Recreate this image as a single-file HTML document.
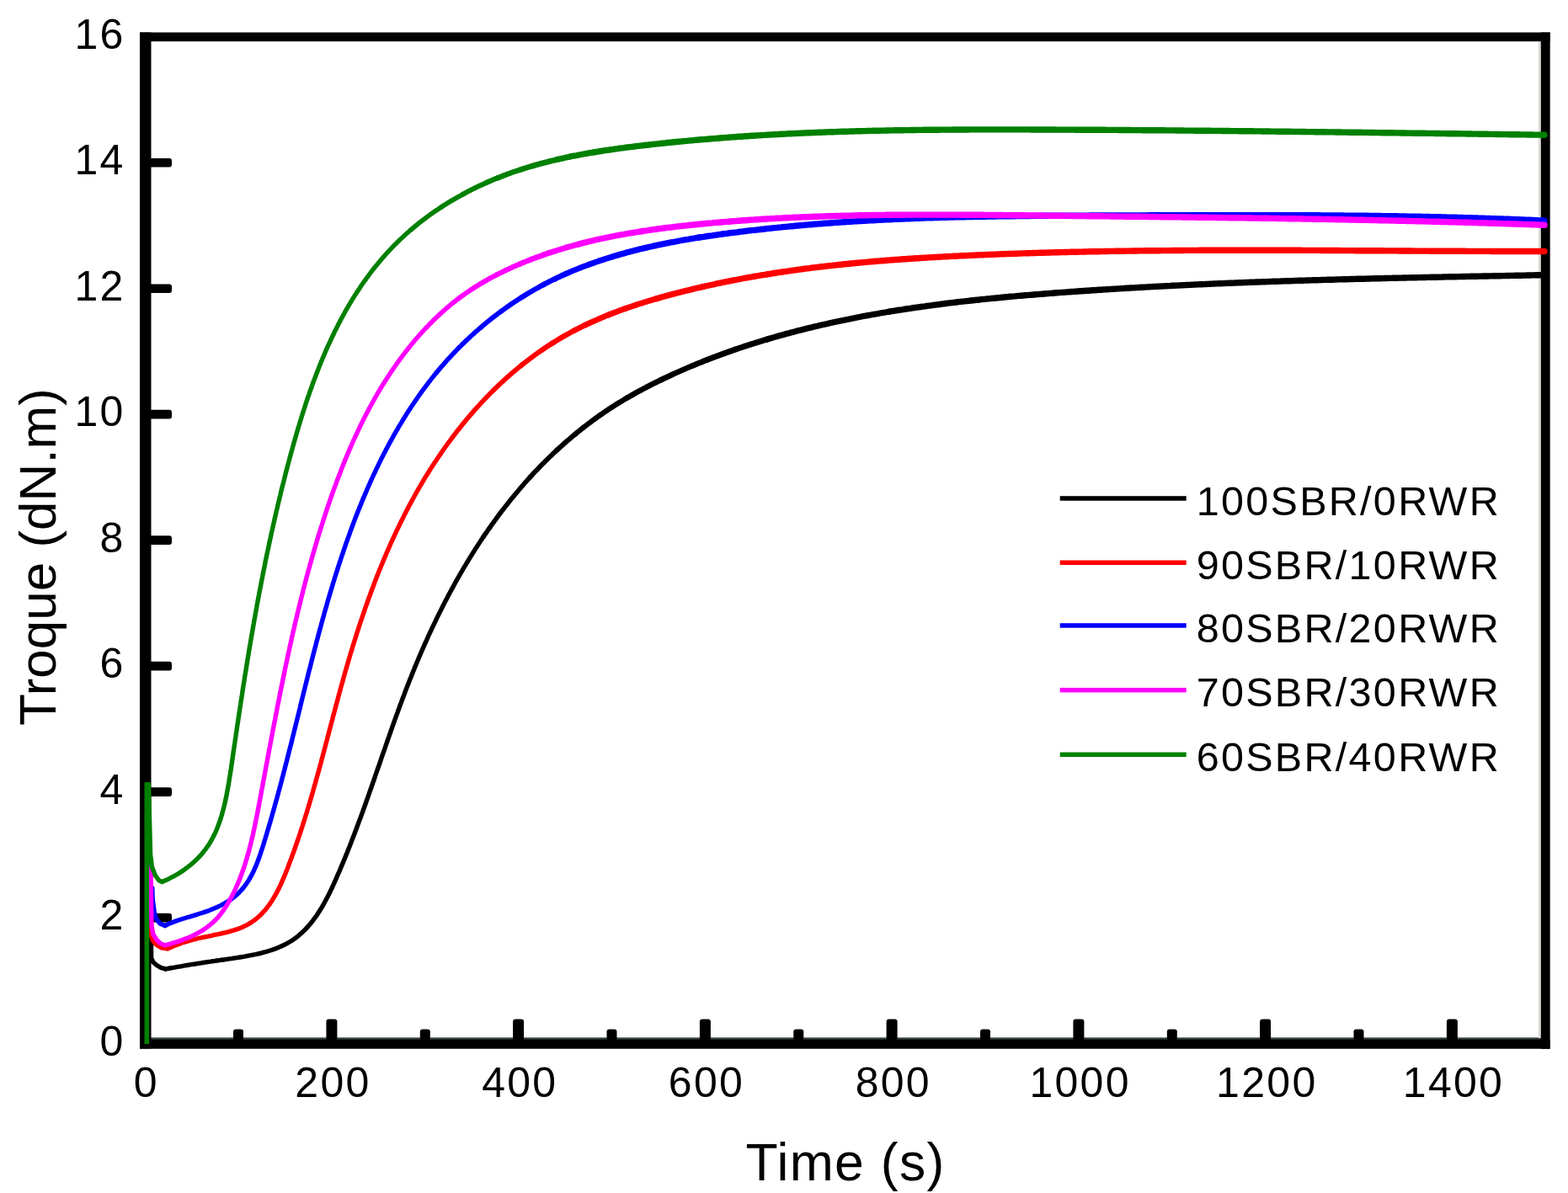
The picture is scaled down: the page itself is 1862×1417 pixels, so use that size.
<!DOCTYPE html>
<html><head><meta charset="utf-8"><title>Torque vs Time</title>
<style>html,body{margin:0;padding:0;background:#fff;overflow:hidden}svg{display:block}</style>
</head><body>
<svg width="1862" height="1417" viewBox="0 0 1862 1417"><rect x="0" y="0" width="1862" height="1417" fill="#ffffff"/><rect x="179" y="1232.3" width="1651" height="2.8" fill="#3a4242"/><rect x="1826.8" y="49" width="3" height="1184" fill="#dcdcd6"/><g fill="#000"><rect x="166.0" y="38.5" width="13.5" height="1207.0"/><rect x="166.0" y="38.5" width="1674.7" height="10.7"/><rect x="1829.8" y="38.5" width="10.9" height="1207.2"/><rect x="166.0" y="1234.6" width="1674.7" height="11.1"/><rect x="277.0" y="1222.5" width="12.0" height="13.5" rx="3"/><rect x="387.4" y="1210.5" width="13.0" height="25.5" rx="3"/><rect x="498.8" y="1222.5" width="12.0" height="13.5" rx="3"/><rect x="609.1" y="1210.5" width="13.0" height="25.5" rx="3"/><rect x="720.5" y="1222.5" width="12.0" height="13.5" rx="3"/><rect x="830.9" y="1210.5" width="13.0" height="25.5" rx="3"/><rect x="942.3" y="1222.5" width="12.0" height="13.5" rx="3"/><rect x="1052.6" y="1210.5" width="13.0" height="25.5" rx="3"/><rect x="1164.0" y="1222.5" width="12.0" height="13.5" rx="3"/><rect x="1274.4" y="1210.5" width="13.0" height="25.5" rx="3"/><rect x="1385.8" y="1222.5" width="12.0" height="13.5" rx="3"/><rect x="1496.1" y="1210.5" width="13.0" height="25.5" rx="3"/><rect x="1607.5" y="1222.5" width="12.0" height="13.5" rx="3"/><rect x="1717.9" y="1210.5" width="13.0" height="25.5" rx="3"/><rect x="176.0" y="1084.7" width="28.0" height="10.7" rx="3"/><rect x="176.0" y="935.2" width="28.0" height="10.7" rx="3"/><rect x="176.0" y="785.8" width="28.0" height="10.7" rx="3"/><rect x="176.0" y="636.3" width="28.0" height="10.7" rx="3"/><rect x="176.0" y="486.8" width="28.0" height="10.7" rx="3"/><rect x="176.0" y="337.4" width="28.0" height="10.7" rx="3"/><rect x="176.0" y="187.9" width="28.0" height="10.7" rx="3"/></g><g fill="none" stroke-linejoin="round" stroke-linecap="round"><g stroke="#000000"><path d="M179.5,1109.7L179.6,1138.0L182.0,1143.0L186.2,1146.5L191.0,1149.3L196.4,1150.9" stroke-width="5.4"/><path d="M196.4,1150.9L199.1,1150.5L201.8,1150.0L204.5,1149.5L207.1,1149.1L209.6,1148.6L212.1,1148.2L214.6,1147.8L217.1,1147.3L219.5,1146.9L222.0,1146.5L224.3,1146.1L226.7,1145.7L229.1,1145.3L231.4,1145.0L233.8,1144.6L236.1,1144.2L238.4,1143.9L240.7,1143.5L243.1,1143.1L245.4,1142.8L247.7,1142.4L250.1,1142.1L252.4,1141.7L254.8,1141.4L257.2,1141.0L259.6,1140.7L262.1,1140.3L264.5,1140.0L267.0,1139.7L269.5,1139.3L272.0,1138.9L274.6,1138.6L277.1,1138.2L279.7,1137.8L282.3,1137.4L284.9,1137.0L287.5,1136.6L290.1,1136.2L292.7,1135.7L295.3,1135.2L297.9,1134.7L300.5,1134.2L303.0,1133.7L305.6,1133.1L308.2,1132.5L310.7,1131.9L313.2,1131.2L315.7,1130.5L318.2,1129.8L320.7,1129.0L323.1,1128.2L325.6,1127.4L327.9,1126.5L330.3,1125.5L332.6,1124.6L334.9,1123.5L337.1,1122.5L339.3,1121.4L341.5,1120.2L343.6,1119.0L345.7,1117.7L347.7,1116.4L349.7,1115.0L351.6,1113.6L353.5,1112.1L355.3,1110.6L357.1,1109.0L358.9,1107.4L360.6,1105.8L362.3,1104.1L364.0,1102.4L365.6,1100.6L367.2,1098.8L368.8,1096.9L370.3,1095.1L371.8,1093.1L373.2,1091.2L374.7,1089.2L376.1,1087.2L377.4,1085.2L378.8,1083.1L380.1,1081.0L381.4,1078.9L382.7,1076.8L383.9,1074.6L385.1,1072.5L386.3,1070.3L387.5,1068.0L388.7,1065.8L389.8,1063.6L391.0,1061.3L392.1,1059.0L393.2,1056.7L394.3,1054.5L395.3,1052.1L396.4,1049.8L397.4,1047.5L398.5,1045.2L399.5,1042.9L400.5,1040.5L401.5,1038.2L402.6,1035.9L403.6,1033.5L404.5,1031.2L405.5,1028.9L406.5,1026.5L407.5,1024.2L408.5,1021.8L409.4,1019.5L410.4,1017.2L411.3,1014.8L412.3,1012.5L413.2,1010.1L414.1,1007.8L415.1,1005.5L416.0,1003.1L416.9,1000.8L417.8,998.4L418.7,996.1L419.6,993.7L420.5,991.4L421.4,989.0L422.3,986.7L423.2,984.3L424.1,982.0L424.9,979.6L425.8,977.3L426.7,974.9L427.6,972.6L428.4,970.3L429.3,967.9L430.1,965.6L431.0,963.2L431.8,960.9L432.7,958.5L433.5,956.2L434.4,953.8L435.2,951.4L436.0,949.1L436.9,946.7L437.7,944.4L438.5,942.0L439.3,939.7L440.2,937.3L441.0,935.0L441.8,932.6L442.6,930.3L443.5,927.9L444.3,925.6L445.1,923.2L445.9,920.9L446.7,918.5L447.5,916.2L448.3,913.8L449.2,911.5L450.0,909.1L450.8,906.8L451.6,904.4L452.4,902.1L453.2,899.7L454.0,897.4L454.8,895.1L455.6,892.7L456.5,890.4L457.3,888.0L458.1,885.7L458.9,883.3L459.7,881.0L460.5,878.6L461.4,876.3L462.2,873.9L463.0,871.6L463.8,869.3L464.6,866.9L465.5,864.6L466.3,862.2L467.1,859.9L468.0,857.6L468.8,855.2L469.6,852.9L470.5,850.6L471.3,848.2L472.2,845.9L473.0,843.5L473.9,841.2L474.7,838.9L475.6,836.6L476.5,834.2L477.3,831.9L478.2,829.6L479.1,827.2L480.0,824.9L480.8,822.6L481.7,820.3L482.6,817.9L483.5,815.6L484.4,813.3L485.3,811.0L486.2,808.7L487.1,806.3L488.1,804.0L489.0,801.7L489.9,799.4L490.8,797.1L491.8,794.8L492.7,792.5L493.7,790.2L494.6,787.8L495.6,785.5L496.6,783.2L497.5,780.9L498.5,778.6L499.5,776.3L500.5,774.0L501.5,771.7L502.5,769.4L503.5,767.2L504.5,764.9L505.5,762.6L506.6,760.3L507.6,758.0L508.6,755.7L509.7,753.4L510.7,751.2L511.8,748.9L512.8,746.6L513.9,744.4L515.0,742.1L516.1,739.8L517.2,737.6L518.2,735.3L519.3,733.1L520.4,730.8L521.6,728.6L522.7,726.3L523.8,724.1L524.9,721.8L526.1,719.6L527.2,717.4L528.3,715.1L529.5,712.9L530.7,710.7L531.8,708.5L533.0,706.2L534.2,704.0L535.4,701.8L536.6,699.6L537.8,697.4L539.0,695.2L540.2,693.0L541.4,690.8L542.6,688.6L543.9,686.5L545.1,684.3L546.3,682.1L547.6,679.9L548.9,677.8L550.1,675.6L551.4,673.4L552.7,671.3L554.0,669.1L555.3,667.0L556.6,664.9L557.9,662.7L559.2,660.6L560.5,658.5L561.8,656.4L563.2,654.2L564.5,652.1L565.9,650.0L567.2,647.9L568.6,645.8L570.0,643.7L571.3,641.6L572.7,639.6L574.1,637.5" stroke-width="5.4"/><path d="M574.1,637.5L575.5,635.4L576.9,633.4L578.4,631.3L579.8,629.2L581.2,627.2L582.7,625.2L584.1,623.1L585.6,621.1L587.0,619.1L588.5,617.1L590.0,615.0L591.4,613.0L592.9,611.0L594.4,609.0L595.9,607.0L597.5,605.1L599.0,603.1L600.5,601.1L602.1,599.2L603.6,597.2L605.2,595.2L606.7,593.3L608.3,591.4L609.9,589.4L611.5,587.5L613.1,585.6L614.7,583.7L616.3,581.8L617.9,579.9L619.5,578.0L621.1,576.1L622.8,574.2L624.4,572.4L626.1,570.5L627.8,568.7L629.4,566.8" stroke-width="5.6"/><path d="M629.4,566.8L631.1,565.0L632.8,563.1L634.5,561.3L636.2,559.5L638.0,557.7L639.7,555.9L641.4,554.1L643.2,552.3L644.9,550.5L646.7,548.8L648.4,547.0L650.2,545.3L652.0,543.5L653.8,541.8L655.6,540.1L657.4,538.3L659.2,536.6L661.0,534.9" stroke-width="5.8"/><path d="M661.0,534.9L662.8,533.2L664.7,531.6L666.5,529.9L668.4,528.2L670.2,526.6L672.1,524.9L674.0,523.3L675.9,521.7L677.8,520.1L679.7,518.4L681.6,516.9L683.5,515.3" stroke-width="6.0"/><path d="M683.5,515.3L685.4,513.7L687.4,512.1L689.3,510.6L691.3,509.0L693.2,507.5L695.2,505.9L697.2,504.4L699.1,502.9L701.1,501.4L703.1,499.9L705.1,498.5L707.1,497.0" stroke-width="6.2"/><path d="M707.1,497.0L709.2,495.5L711.2,494.1L713.2,492.7L715.3,491.3L717.3,489.8L719.4,488.4L721.4,487.1L723.5,485.7L725.6,484.3L727.7,483.0L729.8,481.6L731.9,480.3L734.0,479.0L736.1,477.7L738.3,476.4L740.4,475.1L742.5,473.8L744.7,472.5" stroke-width="6.4"/><path d="M744.7,472.5L746.8,471.3L749.0,470.1L751.2,468.8L753.3,467.6L755.5,466.4L757.7,465.2L759.9,464.0L762.1,462.8L764.3,461.6L766.5,460.5L768.7,459.3L771.0,458.2L773.2,457.0L775.4,455.9L777.6,454.8L779.9,453.7L782.1,452.6L784.4,451.5" stroke-width="6.6"/><path d="M784.4,451.5L786.6,450.4L788.9,449.3L791.1,448.3L793.4,447.2L795.7,446.1L797.9,445.1L800.2,444.0L802.5,443.0L804.8,442.0L807.1,441.0L809.3,440.0L811.6,439.0L813.9,438.0L816.2,437.0L818.5,436.0L820.8,435.0L823.1,434.1L825.5,433.1L827.8,432.1L830.1,431.2L832.4,430.3L834.7,429.3L837.1,428.4L839.4,427.5" stroke-width="6.8"/><path d="M839.4,427.5L841.7,426.6L844.0,425.7L846.4,424.8L848.7,423.9L851.1,423.0L853.4,422.2L855.8,421.3L858.1,420.4L860.5,419.6L862.8,418.7L865.2,417.9L867.5,417.1L869.9,416.2L872.3,415.4L874.6,414.6L877.0,413.8L879.4,413.0L881.7,412.2L884.1,411.4L886.5,410.6L888.9,409.9L891.2,409.1L893.6,408.3L896.0,407.6L898.4,406.8L900.8,406.1L903.2,405.4L905.6,404.6L908.0,403.9L910.4,403.2" stroke-width="7.0"/><path d="M910.4,403.2L912.7,402.5L915.1,401.8L917.5,401.1L919.9,400.4L922.3,399.7L924.7,399.0L927.2,398.3L929.6,397.7L932.0,397.0L934.4,396.3L936.8,395.7L939.2,395.0L941.6,394.4L944.0,393.8L946.4,393.1L948.8,392.5L951.3,391.9L953.7,391.3L956.1,390.7L958.5,390.1L960.9,389.5L963.4,388.9L965.8,388.3L968.2,387.7L970.6,387.2L973.1,386.6L975.5,386.0L977.9,385.5L980.4,384.9L982.8,384.4L985.2,383.8L987.7,383.3L990.1,382.7L992.5,382.2L995.0,381.7L997.4,381.2L999.8,380.7L1002.3,380.2L1004.7,379.7L1007.2,379.2L1009.6,378.7L1012.1,378.2L1014.5,377.7L1017.0,377.2L1019.4,376.7L1021.8,376.3L1024.3,375.8L1026.7,375.3L1029.2,374.9L1031.7,374.4L1034.1,374.0L1036.6,373.5L1039.0,373.1L1041.5,372.7L1043.9,372.2L1046.4,371.8L1048.8,371.4L1051.3,371.0L1053.8,370.5L1056.2,370.1" stroke-width="7.2"/><path d="M1056.2,370.1L1058.7,369.7L1061.1,369.3L1063.6,368.9L1066.1,368.5L1068.5,368.1L1071.0,367.8L1073.5,367.4L1075.9,367.0L1078.4,366.6L1080.9,366.3L1083.3,365.9L1085.8,365.5L1088.3,365.2L1090.8,364.8L1093.2,364.5L1095.7,364.1L1098.2,363.8L1100.7,363.4L1103.1,363.1L1105.6,362.8L1108.1,362.4L1110.6,362.1L1113.0,361.8L1115.5,361.5L1118.0,361.1L1120.5,360.8L1122.9,360.5L1125.4,360.2L1127.9,359.9L1130.4,359.6L1132.9,359.3L1135.4,359.0L1137.8,358.7L1140.3,358.4L1142.8,358.1L1145.3,357.9L1147.8,357.6L1150.3,357.3L1152.7,357.0L1155.2,356.8L1157.7,356.5L1160.2,356.2L1162.7,356.0L1165.2,355.7L1167.7,355.4L1170.1,355.2L1172.6,354.9L1175.1,354.7L1177.6,354.4L1180.1,354.2L1182.6,354.0L1185.1,353.7L1187.6,353.5L1190.1,353.2L1192.6,353.0L1195.0,352.8L1197.5,352.5L1200.0,352.3L1202.5,352.1L1205.0,351.9L1207.5,351.6L1210.0,351.4L1212.5,351.2L1215.0,351.0L1217.5,350.8L1220.0,350.6L1222.5,350.4L1225.0,350.2L1227.5,350.0L1230.0,349.8L1232.4,349.6L1234.9,349.4L1237.4,349.2L1239.9,349.0L1242.4,348.8L1244.9,348.6L1247.4,348.4L1249.9,348.2L1252.4,348.0L1254.9,347.8L1257.4,347.6L1259.9,347.4L1262.4,347.3L1264.9,347.1L1267.4,346.9L1269.9,346.7L1272.4,346.5L1274.9,346.4L1277.4,346.2L1279.9,346.0L1282.3,345.8L1284.8,345.7L1287.3,345.5L1289.8,345.3L1292.3,345.2L1294.8,345.0L1297.3,344.8L1299.8,344.7L1302.3,344.5L1304.8,344.3L1307.3,344.2L1309.8,344.0L1312.3,343.9L1314.8,343.7L1317.3,343.6L1319.8,343.4L1322.3,343.2L1324.8,343.1L1327.3,342.9L1329.8,342.8L1332.2,342.6L1334.7,342.5L1337.2,342.3L1339.7,342.2L1342.2,342.0L1344.7,341.9L1347.2,341.8L1349.7,341.6L1352.2,341.5L1354.7,341.3L1357.2,341.2L1359.7,341.1L1362.2,340.9L1364.7,340.8L1367.2,340.6L1369.7,340.5L1372.2,340.4L1374.7,340.2L1377.1,340.1L1379.6,340.0L1382.1,339.9L1384.6,339.7L1387.1,339.6L1389.6,339.5L1392.1,339.3L1394.6,339.2L1397.1,339.1L1399.6,339.0L1402.1,338.9L1404.6,338.7L1407.1,338.6L1409.6,338.5L1412.1,338.4L1414.6,338.3L1417.1,338.1L1419.6,338.0L1422.0,337.9L1424.5,337.8L1427.0,337.7L1429.5,337.6L1432.0,337.5L1434.5,337.4L1437.0,337.2L1439.5,337.1L1442.0,337.0L1444.5,336.9L1447.0,336.8L1449.5,336.7L1452.0,336.6L1454.5,336.5L1457.0,336.4L1459.5,336.3L1462.0,336.2L1464.5,336.1L1467.0,336.0L1469.4,335.9L1471.9,335.8L1474.4,335.7L1476.9,335.6L1479.4,335.5L1481.9,335.4L1484.4,335.3L1486.9,335.2L1489.4,335.1L1491.9,335.0L1494.4,335.0L1496.9,334.9L1499.4,334.8L1501.9,334.7L1504.4,334.6L1506.9,334.5L1509.4,334.4L1511.9,334.3L1514.4,334.2L1516.8,334.2L1519.3,334.1L1521.8,334.0L1524.3,333.9L1526.8,333.8L1529.3,333.7L1531.8,333.7L1534.3,333.6L1536.8,333.5L1539.3,333.4L1541.8,333.3L1544.3,333.3L1546.8,333.2L1549.3,333.1L1551.8,333.0L1554.3,333.0L1556.8,332.9L1559.3,332.8L1561.8,332.7L1564.3,332.7L1566.8,332.6L1569.2,332.5L1571.7,332.4L1574.2,332.4L1576.7,332.3L1579.2,332.2L1581.7,332.2L1584.2,332.1L1586.7,332.0L1589.2,331.9L1591.7,331.9L1594.2,331.8L1596.7,331.7L1599.2,331.7L1601.7,331.6L1604.2,331.5L1606.7,331.5L1609.2,331.4L1611.7,331.3L1614.2,331.3L1616.7,331.2L1619.2,331.2L1621.7,331.1L1624.2,331.0L1626.7,331.0L1629.1,330.9L1631.6,330.8L1634.1,330.8L1636.6,330.7L1639.1,330.7L1641.6,330.6L1644.1,330.5L1646.6,330.5L1649.1,330.4L1651.6,330.4L1654.1,330.3L1656.6,330.2L1659.1,330.2L1661.6,330.1L1664.1,330.1L1666.6,330.0L1669.1,330.0L1671.6,329.9L1674.1,329.9L1676.6,329.8L1679.1,329.7L1681.6,329.7L1684.1,329.6L1686.6,329.6L1689.1,329.5L1691.6,329.5L1694.1,329.4L1696.6,329.4L1699.1,329.3L1701.6,329.3L1704.1,329.2L1706.6,329.2L1709.1,329.1L1711.6,329.1L1714.1,329.0L1716.6,328.9L1719.0,328.9L1721.5,328.8L1724.0,328.8L1726.5,328.7L1729.0,328.7L1731.5,328.6L1734.0,328.6L1736.5,328.5L1739.0,328.5L1741.5,328.4L1744.0,328.4L1746.5,328.3L1749.0,328.3L1751.5,328.2L1754.0,328.2L1756.5,328.1L1759.0,328.1L1761.5,328.0L1764.0,328.0L1766.5,328.0L1769.0,327.9L1771.5,327.9L1774.0,327.8L1776.5,327.8L1779.0,327.7L1781.5,327.7L1784.0,327.6L1786.5,327.6L1789.0,327.5L1791.5,327.5L1794.0,327.4L1796.5,327.4L1799.0,327.3L1801.5,327.3L1804.0,327.2L1806.5,327.2L1809.0,327.1L1811.5,327.1L1814.0,327.0L1816.5,327.0L1819.0,326.9L1821.5,326.9L1824.0,326.8L1826.5,326.8L1829.0,326.7L1831.5,326.7L1834.0,326.6" stroke-width="7.4"/></g><g stroke="#ff0000"><path d="M179.5,1100.5L179.7,1112.0L182.0,1118.0L186.0,1122.5L192.0,1125.8L199.2,1126.7" stroke-width="5.4"/><path d="M199.2,1126.7L201.5,1125.7L203.9,1124.7L206.2,1123.7L208.5,1122.8L210.7,1121.9L213.0,1121.1L215.3,1120.3L217.6,1119.5L219.9,1118.8L222.1,1118.1L224.4,1117.4L226.7,1116.8L229.1,1116.2L231.4,1115.6L233.8,1115.0L236.2,1114.4L238.6,1113.9L241.0,1113.3L243.5,1112.8L246.0,1112.3L248.5,1111.8L251.1,1111.3L253.7,1110.7L256.3,1110.2L258.9,1109.7L261.5,1109.1L264.1,1108.5L266.7,1107.9L269.2,1107.3L271.8,1106.6L274.3,1105.9L276.9,1105.2L279.3,1104.4L281.8,1103.6L284.2,1102.7L286.6,1101.8L288.9,1100.8L291.1,1099.7L293.3,1098.6L295.4,1097.4L297.5,1096.1L299.5,1094.8L301.5,1093.4L303.4,1092.0L305.2,1090.5L307.0,1088.9L308.8,1087.3L310.5,1085.7L312.1,1083.9L313.7,1082.2L315.3,1080.4L316.8,1078.5L318.2,1076.6L319.7,1074.7L321.0,1072.7L322.4,1070.7L323.7,1068.6L325.0,1066.5L326.2,1064.4L327.4,1062.3L328.6,1060.1L329.8,1057.9L330.9,1055.7L332.0,1053.4L333.1,1051.2L334.1,1048.9L335.1,1046.6L336.2,1044.2L337.1,1041.9L338.1,1039.6L339.1,1037.2L340.0,1034.8L341.0,1032.5L341.9,1030.1L342.8,1027.7L343.7,1025.3L344.6,1023.0L345.5,1020.6L346.4,1018.2L347.2,1015.8L348.1,1013.5L349.0,1011.1L349.8,1008.7L350.7,1006.3L351.5,1003.9L352.3,1001.6L353.1,999.2L354.0,996.8L354.8,994.4L355.6,992.0L356.4,989.6L357.1,987.3L357.9,984.9L358.7,982.5L359.5,980.1L360.2,977.7L361.0,975.3L361.7,972.9L362.5,970.5L363.2,968.2L364.0,965.8L364.7,963.4L365.4,961.0L366.2,958.6L366.9,956.2L367.6,953.8L368.3,951.4L369.0,949.0L369.7,946.6L370.4,944.2L371.1,941.8L371.8,939.4L372.4,937.0L373.1,934.7L373.8,932.3L374.5,929.9L375.1,927.5L375.8,925.1L376.5,922.7L377.1,920.3L377.8,917.9L378.5,915.5L379.1,913.1L379.8,910.7L380.4,908.3L381.1,905.9L381.7,903.5L382.3,901.1L383.0,898.7L383.6,896.3L384.3,893.9L384.9,891.5L385.5,889.1L386.2,886.7L386.8,884.3L387.4,881.9L388.1,879.5L388.7,877.1L389.3,874.7L390.0,872.3L390.6,869.9L391.2,867.5L391.9,865.1L392.5,862.7L393.1,860.3L393.7,857.9L394.4,855.5L395.0,853.1L395.6,850.7L396.3,848.3L396.9,845.9L397.6,843.5L398.2,841.1L398.8,838.7L399.5,836.3L400.1,833.9L400.8,831.5L401.4,829.1L402.0,826.7L402.7,824.3L403.4,821.9L404.0,819.5L404.7,817.1L405.3,814.7L406.0,812.3L406.7,809.9L407.3,807.5L408.0,805.1L408.7,802.7L409.3,800.3L410.0,797.9L410.7,795.5L411.4,793.1L412.1,790.7L412.8,788.3L413.5,785.9L414.2,783.5L414.9,781.1L415.6,778.7L416.3,776.3L417.1,773.9L417.8,771.5L418.5,769.1L419.2,766.7L420.0,764.4L420.7,762.0L421.5,759.6L422.2,757.2L423.0,754.8L423.7,752.4L424.5,750.0L425.3,747.7L426.0,745.3L426.8,742.9L427.6,740.5L428.4,738.1L429.2,735.8L430.0,733.4L430.8,731.0L431.6,728.6L432.4,726.3L433.2,723.9L434.0,721.5L434.9,719.2L435.7,716.8L436.5,714.4L437.4,712.1L438.2,709.7L439.1,707.4L440.0,705.0L440.8,702.7L441.7,700.3L442.6,698.0L443.5,695.6L444.3,693.3L445.2,690.9L446.1,688.6L447.0,686.3L448.0,683.9L448.9,681.6L449.8,679.3L450.7,676.9L451.7,674.6L452.6,672.3L453.6,670.0L454.5,667.7L455.5,665.4L456.4,663.1L457.4,660.8L458.4,658.5L459.4,656.2L460.4,653.9L461.4,651.6L462.4,649.3L463.4,647.0L464.4,644.7L465.5,642.4L466.5,640.1L467.5,637.9L468.6,635.6L469.7,633.3L470.7,631.1L471.8,628.8L472.9,626.6L474.0,624.3L475.0,622.1L476.1,619.8L477.3,617.6L478.4,615.3L479.5,613.1L480.6,610.9L481.8,608.7L482.9,606.4L484.1,604.2L485.2,602.0L486.4,599.8L487.6,597.6L488.8,595.4L490.0,593.2L491.2,591.0L492.4,588.8L493.6,586.7L494.8,584.5L496.0,582.3L497.3,580.1L498.5,578.0L499.8,575.8L501.1,573.7L502.3,571.5L503.6,569.4L504.9,567.2L506.2,565.1L507.5,563.0L508.9,560.9L510.2,558.7L511.5,556.6L512.9,554.5L514.2,552.4L515.6,550.3L517.0,548.2L518.4,546.2L519.7,544.1L521.2,542.0L522.6,539.9L524.0,537.9L525.4,535.8L526.8,533.8L528.3,531.7L529.8,529.7L531.2,527.6L532.7,525.6L534.2,523.6L535.7,521.6L537.2,519.6" stroke-width="5.4"/><path d="M537.2,519.6L538.7,517.6L540.2,515.6L541.7,513.6L543.3,511.6L544.8,509.7L546.4,507.7L547.9,505.8L549.5,503.8L551.1,501.9L552.7,499.9L554.3,498.0L555.9,496.1L557.5,494.2L559.1,492.3L560.8,490.4L562.4,488.5L564.1,486.7L565.7,484.8L567.4,482.9L569.1,481.1L570.8,479.2L572.5,477.4L574.2,475.6L575.9,473.8L577.6,472.0L579.4,470.2L581.1,468.4L582.9,466.6L584.6,464.9L586.4,463.1" stroke-width="5.6"/><path d="M586.4,463.1L588.2,461.4L590.0,459.7L591.8,457.9L593.6,456.2L595.4,454.5L597.2,452.8L599.0,451.1L600.9,449.5L602.7,447.8L604.6,446.2L606.5,444.5L608.3,442.9L610.2,441.3L612.1,439.7L614.0,438.1L615.9,436.5L617.9,434.9L619.8,433.4" stroke-width="5.8"/><path d="M619.8,433.4L621.7,431.8L623.7,430.3L625.6,428.8L627.6,427.3L629.6,425.8L631.6,424.3L633.6,422.8L635.6,421.4L637.6,419.9L639.6,418.5L641.6,417.1L643.7,415.7" stroke-width="6.0"/><path d="M643.7,415.7L645.7,414.3L647.8,412.9L649.8,411.5L651.9,410.2L654.0,408.8L656.1,407.5" stroke-width="6.2"/><path d="M656.1,407.5L658.2,406.2L660.3,404.9L662.4,403.6L664.5,402.3L666.6,401.1L668.8,399.8L670.9,398.6L673.1,397.4L675.3,396.2L677.4,395.0L679.6,393.8L681.8,392.6" stroke-width="6.4"/><path d="M681.8,392.6L684.0,391.5L686.2,390.4L688.5,389.2L690.7,388.1L692.9,387.0L695.2,386.0" stroke-width="6.6"/><path d="M695.2,386.0L697.4,384.9L699.7,383.9L701.9,382.8L704.2,381.8L706.5,380.8L708.8,379.8L711.0,378.8L713.3,377.8L715.6,376.8L717.9,375.9L720.3,374.9L722.6,374.0" stroke-width="6.8"/><path d="M722.6,374.0L724.9,373.1L727.2,372.2L729.6,371.3L731.9,370.4L734.3,369.5L736.6,368.6L739.0,367.8L741.3,366.9L743.7,366.1L746.1,365.3L748.5,364.5L750.8,363.7L753.2,362.9L755.6,362.1L758.0,361.3L760.4,360.5L762.8,359.8L765.2,359.0L767.6,358.3L770.0,357.5L772.4,356.8L774.8,356.1L777.2,355.4L779.7,354.7" stroke-width="7.0"/><path d="M779.7,354.7L782.1,354.0L784.5,353.3L786.9,352.6L789.4,351.9L791.8,351.3L794.2,350.6L796.6,350.0L799.1,349.3L801.5,348.7L804.0,348.1L806.4,347.4L808.8,346.8L811.3,346.2L813.7,345.6L816.1,345.0L818.6,344.4L821.0,343.8L823.5,343.2L825.9,342.6L828.3,342.1L830.8,341.5L833.2,340.9L835.7,340.4L838.1,339.8L840.6,339.3L843.0,338.7L845.5,338.2L847.9,337.7L850.4,337.1L852.8,336.6L855.3,336.1L857.7,335.6L860.2,335.1L862.6,334.6L865.1,334.1L867.5,333.6L870.0,333.1L872.4,332.6L874.9,332.2L877.3,331.7L879.8,331.2L882.2,330.8L884.7,330.3L887.1,329.9L889.6,329.4L892.1,329.0L894.5,328.6L897.0,328.1L899.4,327.7L901.9,327.3L904.3,326.9L906.8,326.5L909.3,326.1L911.7,325.7" stroke-width="7.2"/><path d="M911.7,325.7L914.2,325.3L916.7,324.9L919.1,324.5L921.6,324.1L924.0,323.7L926.5,323.4L929.0,323.0L931.4,322.6L933.9,322.3L936.4,321.9L938.8,321.6L941.3,321.2L943.8,320.9L946.2,320.5L948.7,320.2L951.2,319.8L953.6,319.5L956.1,319.2L958.6,318.9L961.1,318.6L963.5,318.2L966.0,317.9L968.5,317.6L970.9,317.3L973.4,317.0L975.9,316.7L978.4,316.5L980.8,316.2L983.3,315.9L985.8,315.6L988.3,315.3L990.7,315.1L993.2,314.8L995.7,314.5L998.2,314.3L1000.6,314.0L1003.1,313.7L1005.6,313.5L1008.1,313.2L1010.5,313.0L1013.0,312.8L1015.5,312.5L1018.0,312.3L1020.5,312.1L1022.9,311.8L1025.4,311.6L1027.9,311.4L1030.4,311.2L1032.9,310.9L1035.3,310.7L1037.8,310.5L1040.3,310.3L1042.8,310.1L1045.3,309.9L1047.8,309.7L1050.2,309.5L1052.7,309.3L1055.2,309.1L1057.7,308.9L1060.2,308.7L1062.7,308.5L1065.1,308.4L1067.6,308.2L1070.1,308.0L1072.6,307.8L1075.1,307.7L1077.6,307.5L1080.1,307.3L1082.5,307.2L1085.0,307.0L1087.5,306.8L1090.0,306.7L1092.5,306.5L1095.0,306.4L1097.5,306.2L1100.0,306.1L1102.4,305.9L1104.9,305.8L1107.4,305.6L1109.9,305.5L1112.4,305.4L1114.9,305.2L1117.4,305.1L1119.9,304.9L1122.4,304.8L1124.9,304.7L1127.3,304.6L1129.8,304.4L1132.3,304.3L1134.8,304.2L1137.3,304.1L1139.8,303.9L1142.3,303.8L1144.8,303.7L1147.3,303.6L1149.8,303.5L1152.3,303.4L1154.7,303.2L1157.2,303.1L1159.7,303.0L1162.2,302.9L1164.7,302.8L1167.2,302.7L1169.7,302.6L1172.2,302.5L1174.7,302.4L1177.2,302.3L1179.7,302.2L1182.2,302.1L1184.7,302.0L1187.2,301.9L1189.6,301.8L1192.1,301.7L1194.6,301.6L1197.1,301.5L1199.6,301.5L1202.1,301.4L1204.6,301.3L1207.1,301.2L1209.6,301.1L1212.1,301.0L1214.6,300.9L1217.1,300.9L1219.6,300.8L1222.1,300.7L1224.6,300.6L1227.1,300.5L1229.6,300.5L1232.1,300.4L1234.6,300.3L1237.0,300.2L1239.5,300.2L1242.0,300.1L1244.5,300.0L1247.0,300.0L1249.5,299.9L1252.0,299.8L1254.5,299.8L1257.0,299.7L1259.5,299.6L1262.0,299.6L1264.5,299.5L1267.0,299.5L1269.5,299.4L1272.0,299.3L1274.5,299.3L1277.0,299.2L1279.5,299.2L1282.0,299.1L1284.5,299.1L1287.0,299.0L1289.5,299.0L1292.0,298.9L1294.5,298.8L1297.0,298.8L1299.5,298.8L1302.0,298.7L1304.5,298.7L1307.0,298.6L1309.5,298.6L1312.0,298.5L1314.5,298.5L1317.0,298.4L1319.5,298.4L1322.0,298.4L1324.4,298.3L1326.9,298.3L1329.4,298.2L1331.9,298.2L1334.4,298.2L1336.9,298.1L1339.4,298.1L1341.9,298.1L1344.4,298.0L1346.9,298.0L1349.4,298.0L1351.9,297.9L1354.4,297.9L1356.9,297.9L1359.4,297.8L1361.9,297.8L1364.4,297.8L1366.9,297.8L1369.4,297.7L1371.9,297.7L1374.4,297.7L1376.9,297.7L1379.4,297.6L1381.9,297.6L1384.4,297.6L1386.9,297.6L1389.4,297.6L1391.9,297.5L1394.4,297.5L1396.9,297.5L1399.4,297.5L1401.9,297.5L1404.4,297.5L1406.9,297.4L1409.4,297.4L1411.9,297.4L1414.4,297.4L1416.9,297.4L1419.4,297.4L1421.9,297.4L1424.4,297.3L1426.9,297.3L1429.4,297.3L1431.9,297.3L1434.4,297.3L1436.9,297.3L1439.4,297.3L1441.9,297.3L1444.4,297.3L1446.9,297.3L1449.4,297.3L1451.9,297.3L1454.4,297.2L1456.9,297.2L1459.4,297.2L1461.9,297.2L1464.4,297.2L1466.9,297.2L1469.4,297.2L1471.9,297.2L1474.4,297.2L1476.9,297.2L1479.4,297.2L1481.9,297.2L1484.4,297.2L1486.9,297.2L1489.4,297.2L1491.9,297.2L1494.4,297.2L1496.9,297.2L1499.4,297.2L1501.9,297.2L1504.4,297.2L1506.9,297.2L1509.4,297.3L1511.9,297.3L1514.4,297.3L1516.9,297.3L1519.4,297.3L1521.9,297.3L1524.4,297.3L1526.9,297.3L1529.4,297.3L1531.9,297.3L1534.4,297.3L1536.9,297.3L1539.4,297.3L1541.9,297.3L1544.4,297.3L1546.9,297.4L1549.4,297.4L1551.9,297.4L1554.4,297.4L1556.9,297.4L1559.4,297.4L1561.9,297.4L1564.4,297.4L1566.9,297.4L1569.4,297.5L1571.9,297.5L1574.4,297.5L1576.9,297.5L1579.4,297.5L1581.9,297.5L1584.4,297.5L1586.9,297.5L1589.4,297.5L1591.9,297.6L1594.4,297.6L1596.9,297.6L1599.4,297.6L1601.9,297.6L1604.4,297.6L1606.9,297.6L1609.4,297.7L1611.9,297.7L1614.4,297.7L1616.9,297.7L1619.4,297.7L1621.9,297.7L1624.4,297.7L1626.9,297.8L1629.4,297.8L1631.9,297.8L1634.4,297.8L1636.9,297.8L1639.4,297.8L1641.9,297.8L1644.4,297.9L1646.9,297.9L1649.4,297.9L1651.9,297.9L1654.4,297.9L1656.9,297.9L1659.4,297.9L1661.9,298.0L1664.4,298.0L1666.9,298.0L1669.3,298.0L1671.8,298.0L1674.3,298.0L1676.8,298.0L1679.3,298.1L1681.8,298.1L1684.3,298.1L1686.8,298.1L1689.3,298.1L1691.8,298.1L1694.3,298.1L1696.8,298.1L1699.3,298.2L1701.8,298.2L1704.3,298.2L1706.8,298.2L1709.3,298.2L1711.8,298.2L1714.3,298.2L1716.8,298.2L1719.3,298.3L1721.8,298.3L1724.3,298.3L1726.8,298.3L1729.3,298.3L1731.8,298.3L1734.2,298.3L1736.7,298.3L1739.2,298.3L1741.7,298.4L1744.2,298.4L1746.7,298.4L1749.2,298.4L1751.7,298.4L1754.2,298.4L1756.7,298.4L1759.2,298.4L1761.7,298.4L1764.2,298.4L1766.7,298.4L1769.2,298.4L1771.7,298.5L1774.1,298.5L1776.6,298.5L1779.1,298.5L1781.6,298.5L1784.1,298.5L1786.6,298.5L1789.1,298.5L1791.6,298.5L1794.1,298.5L1796.6,298.5L1799.1,298.5L1801.6,298.5L1804.1,298.5L1806.5,298.5L1809.0,298.5L1811.5,298.5L1814.0,298.5L1816.5,298.5L1819.0,298.5L1821.5,298.5L1824.0,298.5L1826.5,298.5L1829.0,298.5L1831.5,298.5L1833.9,298.5" stroke-width="7.4"/></g><g stroke="#0000ff"><path d="M180.8,1054.7L181.2,1068.0L183.5,1085.0L186.0,1092.0L190.0,1097.0L196.0,1099.5" stroke-width="5.4"/><path d="M196.0,1099.5L198.0,1098.5L200.0,1097.5L202.1,1096.6L204.3,1095.8L206.5,1094.9L208.7,1094.1L211.0,1093.3L213.3,1092.5L215.6,1091.8L218.0,1091.0L220.4,1090.3L222.8,1089.5L225.3,1088.8L227.7,1088.1L230.2,1087.3L232.7,1086.6L235.2,1085.8L237.7,1085.0L240.2,1084.2L242.6,1083.4L245.1,1082.6L247.6,1081.7L250.0,1080.8L252.4,1079.8L254.8,1078.8L257.2,1077.8L259.5,1076.7L261.9,1075.6L264.1,1074.4L266.4,1073.2L268.5,1071.9L270.7,1070.6L272.8,1069.2L274.8,1067.8L276.8,1066.4L278.7,1064.8L280.6,1063.3L282.4,1061.6L284.1,1059.9L285.7,1058.2L287.3,1056.4L288.9,1054.6L290.3,1052.7L291.8,1050.8L293.1,1048.8L294.5,1046.8L295.7,1044.8L296.9,1042.7L298.1,1040.6L299.3,1038.4L300.4,1036.3L301.4,1034.1L302.4,1031.8L303.4,1029.6L304.4,1027.3L305.3,1025.0L306.2,1022.7L307.1,1020.3L307.9,1018.0L308.7,1015.6L309.6,1013.2L310.3,1010.8L311.1,1008.4L311.9,1006.0L312.7,1003.6L313.4,1001.2L314.1,998.7L314.9,996.3L315.6,993.9L316.4,991.5L317.1,989.1L317.8,986.6L318.5,984.2L319.2,981.8L319.9,979.4L320.7,977.0L321.4,974.5L322.1,972.1L322.8,969.7L323.4,967.3L324.1,964.8L324.8,962.4L325.5,960.0L326.2,957.6L326.8,955.2L327.5,952.7L328.2,950.3L328.9,947.9L329.5,945.5L330.2,943.0L330.8,940.6L331.5,938.2L332.1,935.8L332.8,933.4L333.4,930.9L334.1,928.5L334.7,926.1L335.3,923.7L336.0,921.2L336.6,918.8L337.2,916.4L337.9,914.0L338.5,911.5L339.1,909.1L339.7,906.7L340.4,904.3L341.0,901.8L341.6,899.4L342.2,897.0L342.8,894.6L343.4,892.2L344.0,889.7L344.7,887.3L345.3,884.9L345.9,882.5L346.5,880.0L347.1,877.6L347.7,875.2L348.3,872.8L348.9,870.4L349.5,867.9L350.1,865.5L350.7,863.1L351.3,860.7L351.9,858.2L352.5,855.8L353.1,853.4L353.7,851.0L354.3,848.6L354.9,846.1L355.5,843.7L356.1,841.3L356.6,838.9L357.2,836.5L357.8,834.1L358.4,831.6L359.0,829.2L359.6,826.8L360.2,824.4L360.8,822.0L361.4,819.6L362.0,817.1L362.6,814.7L363.2,812.3L363.8,809.9L364.4,807.5L365.0,805.1L365.6,802.7L366.2,800.2L366.8,797.8L367.4,795.4L368.1,793.0L368.7,790.6L369.3,788.2L369.9,785.8L370.5,783.4L371.1,781.0L371.7,778.5L372.4,776.1L373.0,773.7L373.6,771.3L374.2,768.9L374.9,766.5L375.5,764.1L376.1,761.7L376.8,759.3L377.4,756.9L378.0,754.5L378.7,752.1L379.3,749.7L380.0,747.3L380.6,744.9L381.3,742.5L381.9,740.1L382.6,737.7L383.2,735.3L383.9,732.9L384.6,730.5L385.2,728.1L385.9,725.7L386.6,723.3L387.3,720.9L388.0,718.5L388.6,716.1L389.3,713.7L390.0,711.3L390.7,708.9L391.4,706.6L392.1,704.2L392.8,701.8L393.6,699.4L394.3,697.0L395.0,694.6L395.7,692.2L396.5,689.8L397.2,687.5L397.9,685.1L398.7,682.7L399.4,680.3L400.2,677.9L400.9,675.6L401.7,673.2L402.5,670.8L403.2,668.4L404.0,666.1L404.8,663.7L405.6,661.3L406.4,658.9L407.2,656.6L408.0,654.2L408.8,651.8L409.6,649.5L410.4,647.1L411.2,644.7L412.1,642.4L412.9,640.0L413.8,637.6L414.6,635.3L415.5,632.9L416.3,630.5L417.2,628.2L418.1,625.8L418.9,623.5L419.8,621.1L420.7,618.8L421.6,616.4L422.5,614.1L423.4,611.7L424.3,609.4L425.3,607.1L426.2,604.7L427.1,602.4L428.1,600.1L429.0,597.7L430.0,595.4L430.9,593.1L431.9,590.8L432.9,588.4L433.9,586.1L434.9,583.8L435.8,581.5L436.9,579.2L437.9,576.9L438.9,574.6L439.9,572.3L440.9,570.0L442.0,567.7L443.0,565.5L444.1,563.2L445.2,560.9L446.2,558.6L447.3,556.4L448.4,554.1L449.5,551.8L450.6,549.6L451.7,547.3L452.8,545.1L453.9,542.9L455.1,540.6L456.2,538.4L457.4,536.2L458.5,533.9L459.7,531.7L460.9,529.5L462.1,527.3L463.3,525.1L464.5,522.9L465.7,520.7L466.9,518.5L468.1,516.4L469.4,514.2L470.6,512.0L471.9,509.9L473.1,507.7L474.4,505.5L475.7,503.4L477.0,501.3L478.3,499.1L479.6,497.0L480.9,494.9L482.2,492.8L483.5,490.7L484.9,488.6L486.3,486.5L487.6,484.4L489.0,482.3L490.4,480.2L491.8,478.2L493.2,476.1L494.6,474.1L496.0,472.0L497.4,470.0L498.9,467.9L500.3,465.9L501.8,463.9L503.3,461.9L504.8,459.9L506.3,457.9L507.8,455.9L509.3,453.9L510.8,452.0L512.3,450.0L513.9,448.1L515.4,446.1L517.0,444.2L518.6,442.3" stroke-width="5.4"/><path d="M518.6,442.3L520.2,440.3L521.8,438.4L523.4,436.5L525.0,434.6L526.7,432.8L528.3,430.9L530.0,429.0L531.6,427.2L533.3,425.3L535.0,423.5L536.7,421.6L538.4,419.8L540.1,418.0L541.9,416.2L543.6,414.4L545.4,412.6L547.1,410.9L548.9,409.1L550.7,407.4L552.5,405.6L554.3,403.9L556.1,402.2L558.0,400.4L559.8,398.7L561.7,397.1L563.5,395.4L565.4,393.7L567.3,392.1L569.2,390.4L571.1,388.8" stroke-width="5.6"/><path d="M571.1,388.8L573.0,387.1L574.9,385.5L576.9,383.9L578.8,382.3L580.8,380.8L582.7,379.2L584.7,377.6L586.7,376.1L588.7,374.6L590.7,373.1L592.7,371.5L594.7,370.0" stroke-width="5.8"/><path d="M594.7,370.0L596.7,368.6L598.8,367.1L600.8,365.6L602.8,364.2L604.9,362.8L607.0,361.3L609.0,359.9L611.1,358.5L613.2,357.2L615.3,355.8L617.4,354.4L619.5,353.1" stroke-width="6.0"/><path d="M619.5,353.1L621.6,351.8L623.8,350.5L625.9,349.2L628.1,347.9L630.2,346.6L632.4,345.3L634.5,344.1L636.7,342.9L638.9,341.7L641.0,340.5L643.2,339.3L645.4,338.1" stroke-width="6.2"/><path d="M645.4,338.1L647.6,336.9L649.8,335.8L652.0,334.7L654.3,333.5L656.5,332.4L658.7,331.4" stroke-width="6.4"/><path d="M658.7,331.4L661.0,330.3L663.2,329.2L665.4,328.2L667.7,327.1L670.0,326.1L672.2,325.1" stroke-width="6.6"/><path d="M672.2,325.1L674.5,324.1L676.8,323.1L679.0,322.2L681.3,321.2L683.6,320.3L685.9,319.4L688.2,318.4L690.5,317.5L692.8,316.6L695.2,315.8L697.5,314.9L699.8,314.0" stroke-width="6.8"/><path d="M699.8,314.0L702.1,313.2L704.5,312.4L706.8,311.5L709.2,310.7L711.5,309.9L713.9,309.1L716.2,308.4L718.6,307.6L720.9,306.8L723.3,306.1L725.7,305.4L728.1,304.6" stroke-width="7.0"/><path d="M728.1,304.6L730.4,303.9L732.8,303.2L735.2,302.5L737.6,301.8L740.0,301.2L742.4,300.5L744.8,299.8L747.2,299.2L749.6,298.6L752.0,297.9L754.4,297.3L756.9,296.7L759.3,296.1L761.7,295.5L764.1,294.9L766.6,294.4L769.0,293.8L771.4,293.2L773.9,292.7L776.3,292.1L778.8,291.6L781.2,291.1L783.7,290.6L786.1,290.1L788.6,289.6L791.0,289.1L793.5,288.6L795.9,288.1L798.4,287.6L800.9,287.2L803.3,286.7L805.8,286.2L808.3,285.8L810.7,285.3L813.2,284.9L815.7,284.5L818.2,284.1L820.6,283.6L823.1,283.2L825.6,282.8L828.1,282.4L830.6,282.0" stroke-width="7.2"/><path d="M830.6,282.0L833.0,281.7L835.5,281.3L838.0,280.9L840.5,280.5L843.0,280.1L845.5,279.8L848.0,279.4L850.5,279.1L852.9,278.7L855.4,278.4L857.9,278.0L860.4,277.7L862.9,277.4L865.4,277.0L867.9,276.7L870.4,276.4L872.9,276.1L875.4,275.8L877.9,275.4L880.3,275.1L882.8,274.8L885.3,274.5L887.8,274.2L890.3,273.9L892.8,273.6L895.3,273.4L897.8,273.1L900.3,272.8L902.8,272.5L905.3,272.2L907.8,272.0L910.2,271.7L912.7,271.4L915.2,271.2L917.7,270.9L920.2,270.6L922.7,270.4L925.2,270.1L927.7,269.9L930.2,269.6L932.7,269.4L935.2,269.2L937.7,268.9L940.2,268.7L942.6,268.5L945.1,268.2L947.6,268.0L950.1,267.8L952.6,267.6L955.1,267.3L957.6,267.1L960.1,266.9L962.6,266.7L965.1,266.5L967.6,266.3L970.1,266.1L972.5,265.9L975.0,265.7L977.5,265.5L980.0,265.3L982.5,265.1L985.0,265.0L987.5,264.8L990.0,264.6L992.5,264.4L995.0,264.2L997.5,264.1L1000.0,263.9L1002.5,263.7L1004.9,263.6L1007.4,263.4L1009.9,263.3L1012.4,263.1L1014.9,262.9L1017.4,262.8L1019.9,262.6L1022.4,262.5L1024.9,262.3L1027.4,262.2L1029.9,262.1L1032.4,261.9L1034.9,261.8L1037.3,261.7L1039.8,261.5L1042.3,261.4L1044.8,261.3L1047.3,261.1L1049.8,261.0L1052.3,260.9L1054.8,260.8L1057.3,260.7L1059.8,260.5L1062.3,260.4L1064.8,260.3L1067.3,260.2L1069.7,260.1L1072.2,260.0L1074.7,259.9L1077.2,259.8L1079.7,259.7L1082.2,259.6L1084.7,259.5L1087.2,259.4L1089.7,259.3L1092.2,259.2L1094.7,259.1L1097.2,259.0L1099.7,258.9L1102.2,258.9L1104.7,258.8L1107.1,258.7L1109.6,258.6L1112.1,258.5L1114.6,258.5L1117.1,258.4L1119.6,258.3L1122.1,258.3L1124.6,258.2L1127.1,258.1L1129.6,258.0L1132.1,258.0L1134.6,257.9L1137.1,257.9L1139.6,257.8L1142.1,257.7L1144.5,257.7L1147.0,257.6L1149.5,257.6L1152.0,257.5L1154.5,257.5L1157.0,257.4L1159.5,257.4L1162.0,257.3L1164.5,257.3L1167.0,257.2L1169.5,257.2L1172.0,257.1L1174.5,257.1L1177.0,257.0L1179.5,257.0L1182.0,257.0L1184.5,256.9L1186.9,256.9L1189.4,256.9L1191.9,256.8L1194.4,256.8L1196.9,256.7L1199.4,256.7L1201.9,256.7L1204.4,256.7L1206.9,256.6L1209.4,256.6L1211.9,256.6L1214.4,256.5L1216.9,256.5L1219.4,256.5L1221.9,256.5L1224.4,256.4L1226.9,256.4L1229.4,256.4L1231.9,256.4L1234.4,256.4L1236.9,256.3L1239.3,256.3L1241.8,256.3L1244.3,256.3L1246.8,256.3L1249.3,256.3L1251.8,256.2L1254.3,256.2L1256.8,256.2L1259.3,256.2L1261.8,256.2L1264.3,256.2L1266.8,256.2L1269.3,256.1L1271.8,256.1L1274.3,256.1L1276.8,256.1L1279.3,256.1L1281.8,256.1L1284.3,256.1L1286.8,256.1L1289.3,256.1L1291.8,256.1L1294.3,256.0L1296.8,256.0L1299.3,256.0L1301.8,256.0L1304.3,256.0L1306.8,256.0L1309.2,256.0L1311.7,256.0L1314.2,256.0L1316.7,256.0L1319.2,256.0L1321.7,256.0L1324.2,256.0L1326.7,255.9L1329.2,255.9L1331.7,255.9L1334.2,255.9L1336.7,255.9L1339.2,255.9L1341.7,255.9L1344.2,255.9L1346.7,255.9L1349.2,255.9L1351.7,255.9L1354.2,255.9L1356.7,255.9L1359.2,255.9L1361.7,255.9L1364.2,255.8L1366.7,255.8L1369.2,255.8L1371.7,255.8L1374.2,255.8L1376.7,255.8L1379.2,255.8L1381.7,255.8L1384.2,255.8L1386.7,255.8L1389.2,255.8L1391.7,255.8L1394.2,255.8L1396.7,255.8L1399.2,255.7L1401.7,255.7L1404.2,255.7L1406.7,255.7L1409.2,255.7L1411.7,255.7L1414.2,255.7L1416.7,255.7L1419.2,255.7L1421.7,255.7L1424.2,255.7L1426.7,255.7L1429.2,255.7L1431.7,255.7L1434.2,255.7L1436.7,255.7L1439.2,255.7L1441.7,255.6L1444.2,255.6L1446.7,255.6L1449.2,255.6L1451.7,255.6L1454.2,255.6L1456.7,255.6L1459.2,255.6L1461.7,255.6L1464.2,255.6L1466.7,255.6L1469.2,255.6L1471.7,255.6L1474.2,255.6L1476.7,255.6L1479.2,255.6L1481.7,255.6L1484.2,255.6L1486.7,255.6L1489.2,255.6L1491.7,255.6L1494.2,255.6L1496.7,255.6L1499.2,255.6L1501.7,255.6L1504.2,255.6L1506.7,255.6L1509.2,255.6L1511.7,255.6L1514.2,255.6L1516.7,255.6L1519.2,255.6L1521.7,255.7L1524.2,255.7L1526.7,255.7L1529.2,255.7L1531.7,255.7L1534.2,255.7L1536.7,255.7L1539.2,255.7L1541.7,255.7L1544.2,255.7L1546.7,255.7L1549.2,255.7L1551.7,255.8L1554.2,255.8L1556.7,255.8L1559.2,255.8L1561.7,255.8L1564.2,255.8L1566.7,255.8L1569.2,255.9L1571.7,255.9L1574.2,255.9L1576.7,255.9L1579.2,255.9L1581.7,255.9L1584.2,256.0L1586.7,256.0L1589.2,256.0L1591.7,256.0L1594.2,256.0L1596.7,256.1L1599.2,256.1L1601.7,256.1L1604.2,256.1L1606.7,256.2L1609.2,256.2L1611.7,256.2L1614.2,256.2L1616.7,256.3L1619.2,256.3L1621.7,256.3L1624.2,256.3L1626.7,256.4L1629.2,256.4L1631.7,256.4L1634.2,256.5L1636.7,256.5L1639.2,256.5L1641.7,256.6L1644.2,256.6L1646.7,256.6L1649.2,256.7L1651.7,256.7L1654.2,256.8L1656.7,256.8L1659.2,256.8L1661.7,256.9L1664.2,256.9L1666.7,257.0L1669.2,257.0L1671.7,257.1L1674.2,257.1L1676.7,257.1L1679.2,257.2L1681.7,257.2L1684.2,257.3L1686.7,257.3L1689.2,257.4L1691.7,257.4L1694.2,257.5L1696.7,257.5L1699.2,257.6L1701.7,257.7L1704.2,257.7L1706.7,257.8L1709.2,257.8L1711.7,257.9L1714.2,257.9L1716.7,258.0L1719.2,258.1L1721.7,258.1L1724.2,258.2L1726.7,258.3L1729.2,258.3L1731.7,258.4L1734.2,258.5L1736.7,258.5L1739.2,258.6L1741.6,258.7L1744.1,258.7L1746.6,258.8L1749.1,258.9L1751.6,259.0L1754.1,259.0L1756.6,259.1L1759.1,259.2L1761.6,259.3L1764.1,259.4L1766.6,259.4L1769.1,259.5L1771.6,259.6L1774.1,259.7L1776.6,259.8L1779.1,259.9L1781.6,260.0L1784.1,260.0L1786.6,260.1L1789.1,260.2L1791.6,260.3L1794.0,260.4L1796.5,260.5L1799.0,260.6L1801.5,260.7L1804.0,260.8L1806.5,260.9L1809.0,261.0L1811.5,261.1L1814.0,261.2L1816.5,261.3L1819.0,261.4L1821.5,261.5L1824.0,261.6L1826.5,261.8L1829.0,261.9L1831.4,262.0L1833.9,262.1" stroke-width="7.4"/></g><g stroke="#ff00ff"><path d="M179.2,1029.7L179.4,1060.0L180.0,1100.0L182.0,1110.0L186.2,1116.5L191.0,1121.0L196.2,1122.7" stroke-width="5.4"/><path d="M196.2,1122.7L198.6,1122.0L201.1,1121.4L203.5,1120.7L206.0,1119.9L208.5,1119.2L210.9,1118.4L213.4,1117.6L215.8,1116.7L218.2,1115.8L220.6,1114.9L223.0,1113.9L225.4,1112.9L227.7,1111.9L230.0,1110.8L232.3,1109.6L234.5,1108.5L236.7,1107.2L238.9,1106.0L241.0,1104.7L243.1,1103.3L245.1,1101.9L247.1,1100.4L249.0,1098.9L250.9,1097.3L252.8,1095.7L254.5,1094.0L256.2,1092.3L257.9,1090.5L259.5,1088.7L261.1,1086.8L262.6,1084.9L264.1,1082.9L265.5,1081.0L266.9,1078.9L268.2,1076.9L269.5,1074.8L270.8,1072.7L272.1,1070.6L273.3,1068.4L274.4,1066.3L275.6,1064.1L276.7,1061.9L277.8,1059.7L278.8,1057.5L279.9,1055.2L280.9,1053.0L281.9,1050.7L282.8,1048.5L283.8,1046.2L284.7,1043.9L285.6,1041.6L286.5,1039.3L287.3,1037.0L288.1,1034.7L289.0,1032.3L289.8,1030.0L290.5,1027.7L291.3,1025.3L292.0,1022.9L292.7,1020.6L293.4,1018.2L294.1,1015.8L294.8,1013.4L295.5,1011.0L296.1,1008.6L296.7,1006.2L297.4,1003.8L298.0,1001.3L298.6,998.9L299.1,996.5L299.7,994.0L300.3,991.6L300.8,989.2L301.3,986.7L301.9,984.3L302.4,981.8L302.9,979.3L303.4,976.9L303.9,974.4L304.4,971.9L304.9,969.5L305.4,967.0L305.9,964.5L306.3,962.1L306.8,959.6L307.3,957.1L307.8,954.6L308.2,952.2L308.7,949.7L309.1,947.2L309.6,944.7L310.1,942.3L310.5,939.8L311.0,937.3L311.5,934.8L311.9,932.4L312.4,929.9L312.8,927.4L313.3,925.0L313.8,922.5L314.2,920.0L314.7,917.5L315.1,915.1L315.6,912.6L316.1,910.1L316.5,907.7L317.0,905.2L317.5,902.7L317.9,900.3L318.4,897.8L318.8,895.3L319.3,892.9L319.8,890.4L320.2,887.9L320.7,885.5L321.1,883.0L321.6,880.6L322.1,878.1L322.5,875.6L323.0,873.2L323.5,870.7L323.9,868.3L324.4,865.8L324.9,863.3L325.4,860.9L325.8,858.4L326.3,856.0L326.8,853.5L327.2,851.1L327.7,848.6L328.2,846.1L328.7,843.7L329.1,841.2L329.6,838.8L330.1,836.3L330.6,833.9L331.1,831.4L331.6,829.0L332.0,826.5L332.5,824.1L333.0,821.6L333.5,819.2L334.0,816.7L334.5,814.3L335.0,811.9L335.5,809.4L336.0,807.0L336.5,804.5L337.0,802.1L337.5,799.6L338.0,797.2L338.5,794.8L339.0,792.3L339.5,789.9L340.0,787.4L340.6,785.0L341.1,782.6L341.6,780.1L342.1,777.7L342.7,775.2L343.2,772.8L343.7,770.4L344.2,767.9L344.8,765.5L345.3,763.1L345.9,760.7L346.4,758.2L346.9,755.8L347.5,753.4L348.0,750.9L348.6,748.5L349.2,746.1L349.7,743.7L350.3,741.2L350.8,738.8L351.4,736.4L352.0,734.0L352.6,731.5L353.1,729.1L353.7,726.7L354.3,724.3L354.9,721.9L355.5,719.5L356.1,717.0L356.7,714.6L357.3,712.2L357.9,709.8L358.5,707.4L359.1,705.0L359.7,702.6L360.3,700.1L360.9,697.7L361.6,695.3L362.2,692.9L362.8,690.5L363.5,688.1L364.1,685.7L364.7,683.3L365.4,680.9L366.0,678.5L366.7,676.1L367.4,673.7L368.0,671.3L368.7,668.9L369.4,666.5L370.0,664.1L370.7,661.7L371.4,659.3L372.1,656.9L372.8,654.5L373.5,652.1L374.2,649.7L374.9,647.3L375.6,644.9L376.3,642.6L377.0,640.2L377.7,637.8L378.5,635.4L379.2,633.0L380.0,630.6L380.7,628.2L381.4,625.9L382.2,623.5L383.0,621.1L383.7,618.7L384.5,616.3L385.3,614.0L386.0,611.6L386.8,609.2L387.6,606.8L388.4,604.5L389.2,602.1L390.0,599.7L390.8,597.4L391.6,595.0L392.4,592.6L393.3,590.3L394.1,587.9L394.9,585.5L395.8,583.2L396.6,580.8L397.5,578.5L398.4,576.1L399.2,573.8L400.1,571.4L401.0,569.1L401.9,566.7L402.8,564.4L403.7,562.0L404.6,559.7L405.5,557.3L406.4,555.0L407.3,552.7L408.3,550.4L409.2,548.0L410.1,545.7L411.1,543.4L412.1,541.1L413.0,538.8L414.0,536.4L415.0,534.1L416.0,531.8L417.0,529.5L418.0,527.3L419.0,525.0L420.0,522.7L421.1,520.4L422.1,518.1L423.2,515.8L424.2,513.6L425.3,511.3L426.4,509.1L427.4,506.8L428.5,504.6L429.6,502.3L430.7,500.1L431.9,497.8L433.0,495.6L434.1,493.4L435.3,491.2L436.4,489.0L437.6,486.7L438.8,484.5L440.0,482.3L441.1,480.2L442.3,478.0L443.6,475.8L444.8,473.6L446.0,471.5L447.3,469.3L448.5,467.1L449.8,465.0L451.0,462.9L452.3,460.7L453.6,458.6L454.9,456.5L456.2,454.4L457.6,452.3L458.9,450.2L460.3,448.1L461.6,446.0L463.0,443.9L464.4,441.8L465.8,439.8L467.2,437.7L468.6,435.7L470.0,433.7L471.4,431.6L472.9,429.6L474.3,427.6L475.8,425.6L477.3,423.6L478.8,421.6L480.3,419.6L481.8,417.7L483.4,415.7L484.9,413.7L486.5,411.8L488.0,409.9L489.6,407.9L491.2,406.0L492.8,404.1L494.4,402.2L496.1,400.3L497.7,398.4L499.4,396.6L501.0,394.7L502.7,392.9L504.4,391.0L506.1,389.2" stroke-width="5.4"/><path d="M506.1,389.2L507.9,387.4L509.6,385.6L511.4,383.8L513.1,382.0L514.9,380.3L516.7,378.5L518.5,376.8L520.3,375.1L522.1,373.4L524.0,371.7L525.8,370.0L527.7,368.3L529.6,366.7L531.5,365.1L533.4,363.4L535.3,361.8L537.2,360.3L539.2,358.7" stroke-width="5.6"/><path d="M539.2,358.7L541.2,357.2L543.1,355.6L545.1,354.1L547.1,352.6L549.2,351.1L551.2,349.7L553.2,348.2L555.3,346.8L557.4,345.4L559.4,344.0L561.5,342.7L563.7,341.3" stroke-width="5.8"/><path d="M563.7,341.3L565.8,340.0L567.9,338.7L570.0,337.4L572.2,336.1L574.4,334.8L576.5,333.6L578.7,332.3L580.9,331.1L583.1,329.9L585.3,328.7L587.5,327.6L589.8,326.4" stroke-width="6.0"/><path d="M589.8,326.4L592.0,325.3L594.2,324.2L596.5,323.1L598.7,322.0L601.0,320.9L603.2,319.8L605.5,318.8L607.8,317.7L610.1,316.7L612.4,315.7L614.6,314.7L616.9,313.7" stroke-width="6.2"/><path d="M616.9,313.7L619.2,312.8L621.5,311.8L623.8,310.9L626.1,309.9L628.5,309.0L630.8,308.1" stroke-width="6.4"/><path d="M630.8,308.1L633.1,307.2L635.4,306.3L637.8,305.5L640.1,304.6L642.4,303.8L644.8,302.9" stroke-width="6.6"/><path d="M644.8,302.9L647.1,302.1L649.5,301.3L651.8,300.5L654.2,299.7L656.5,298.9L658.9,298.2L661.3,297.4L663.7,296.7L666.0,296.0L668.4,295.2L670.8,294.5L673.2,293.8" stroke-width="6.8"/><path d="M673.2,293.8L675.6,293.2L678.0,292.5L680.3,291.8L682.7,291.2L685.1,290.5L687.6,289.9" stroke-width="7.0"/><path d="M687.6,289.9L690.0,289.2L692.4,288.6L694.8,288.0L697.2,287.4L699.6,286.8L702.0,286.3L704.5,285.7L706.9,285.1L709.3,284.6L711.7,284.0L714.2,283.5L716.6,283.0L719.1,282.5L721.5,282.0L723.9,281.5L726.4,281.0L728.8,280.5L731.3,280.0L733.7,279.5L736.2,279.1L738.6,278.6L741.1,278.2L743.6,277.7L746.0,277.3L748.5,276.9L750.9,276.5L753.4,276.1L755.9,275.7L758.4,275.3L760.8,274.9" stroke-width="7.2"/><path d="M760.8,274.9L763.3,274.5L765.8,274.1L768.2,273.8L770.7,273.4L773.2,273.0L775.7,272.7L778.2,272.3L780.6,272.0L783.1,271.7L785.6,271.3L788.1,271.0L790.6,270.7L793.1,270.4L795.5,270.1L798.0,269.8L800.5,269.5L803.0,269.2L805.5,268.9L808.0,268.6L810.5,268.3L813.0,268.1L815.5,267.8L818.0,267.5L820.4,267.3L822.9,267.0L825.4,266.8L827.9,266.5L830.4,266.3L832.9,266.0L835.4,265.8L837.9,265.5L840.4,265.3L842.9,265.1L845.4,264.9L847.9,264.6L850.4,264.4L852.9,264.2L855.4,264.0L857.8,263.8L860.3,263.6L862.8,263.4L865.3,263.2L867.8,263.0L870.3,262.8L872.8,262.6L875.3,262.4L877.8,262.2L880.3,262.0L882.8,261.8L885.3,261.7L887.8,261.5L890.3,261.3L892.8,261.1L895.3,261.0L897.8,260.8L900.2,260.7L902.7,260.5L905.2,260.3L907.7,260.2L910.2,260.0L912.7,259.9L915.2,259.7L917.7,259.6L920.2,259.5L922.7,259.3L925.2,259.2L927.7,259.1L930.2,258.9L932.7,258.8L935.2,258.7L937.7,258.6L940.2,258.4L942.6,258.3L945.1,258.2L947.6,258.1L950.1,258.0L952.6,257.9L955.1,257.8L957.6,257.7L960.1,257.6L962.6,257.5L965.1,257.4L967.6,257.3L970.1,257.2L972.6,257.1L975.1,257.0L977.6,257.0L980.1,256.9L982.6,256.8L985.1,256.7L987.6,256.6L990.0,256.6L992.5,256.5L995.0,256.4L997.5,256.4L1000.0,256.3L1002.5,256.2L1005.0,256.2L1007.5,256.1L1010.0,256.1L1012.5,256.0L1015.0,255.9L1017.5,255.9L1020.0,255.8L1022.5,255.8L1025.0,255.7L1027.5,255.7L1030.0,255.7L1032.5,255.6L1035.0,255.6L1037.5,255.5L1039.9,255.5L1042.4,255.5L1044.9,255.4L1047.4,255.4L1049.9,255.4L1052.4,255.3L1054.9,255.3L1057.4,255.3L1059.9,255.3L1062.4,255.2L1064.9,255.2L1067.4,255.2L1069.9,255.2L1072.4,255.2L1074.9,255.1L1077.4,255.1L1079.9,255.1L1082.4,255.1L1084.9,255.1L1087.4,255.1L1089.9,255.1L1092.4,255.1L1094.9,255.1L1097.3,255.1L1099.8,255.1L1102.3,255.1L1104.8,255.1L1107.3,255.1L1109.8,255.1L1112.3,255.1L1114.8,255.1L1117.3,255.1L1119.8,255.1L1122.3,255.1L1124.8,255.1L1127.3,255.1L1129.8,255.1L1132.3,255.1L1134.8,255.1L1137.3,255.1L1139.8,255.1L1142.3,255.2L1144.8,255.2L1147.3,255.2L1149.8,255.2L1152.3,255.2L1154.8,255.2L1157.3,255.3L1159.8,255.3L1162.2,255.3L1164.7,255.3L1167.2,255.3L1169.7,255.4L1172.2,255.4L1174.7,255.4L1177.2,255.4L1179.7,255.4L1182.2,255.5L1184.7,255.5L1187.2,255.5L1189.7,255.5L1192.2,255.6L1194.7,255.6L1197.2,255.6L1199.7,255.6L1202.2,255.7L1204.7,255.7L1207.2,255.7L1209.7,255.7L1212.2,255.8L1214.7,255.8L1217.2,255.8L1219.7,255.9L1222.2,255.9L1224.7,255.9L1227.2,255.9L1229.7,256.0L1232.2,256.0L1234.7,256.0L1237.1,256.0L1239.6,256.1L1242.1,256.1L1244.6,256.1L1247.1,256.2L1249.6,256.2L1252.1,256.2L1254.6,256.2L1257.1,256.3L1259.6,256.3L1262.1,256.3L1264.6,256.4L1267.1,256.4L1269.6,256.4L1272.1,256.4L1274.6,256.5L1277.1,256.5L1279.6,256.5L1282.1,256.6L1284.6,256.6L1287.1,256.6L1289.6,256.6L1292.1,256.7L1294.6,256.7L1297.1,256.7L1299.6,256.7L1302.1,256.8L1304.6,256.8L1307.1,256.8L1309.6,256.9L1312.1,256.9L1314.6,256.9L1317.1,256.9L1319.6,257.0L1322.1,257.0L1324.6,257.0L1327.1,257.1L1329.6,257.1L1332.1,257.1L1334.6,257.1L1337.0,257.2L1339.5,257.2L1342.0,257.2L1344.5,257.2L1347.0,257.3L1349.5,257.3L1352.0,257.3L1354.5,257.4L1357.0,257.4L1359.5,257.4L1362.0,257.4L1364.5,257.5L1367.0,257.5L1369.5,257.5L1372.0,257.6L1374.5,257.6L1377.0,257.6L1379.5,257.7L1382.0,257.7L1384.5,257.7L1387.0,257.7L1389.5,257.8L1392.0,257.8L1394.5,257.8L1397.0,257.9L1399.5,257.9L1402.0,257.9L1404.5,258.0L1407.0,258.0L1409.5,258.0L1412.0,258.0L1414.5,258.1L1417.0,258.1L1419.5,258.1L1422.0,258.2L1424.5,258.2L1427.0,258.2L1429.5,258.3L1432.0,258.3L1434.5,258.3L1437.0,258.4L1439.5,258.4L1442.0,258.4L1444.5,258.5L1447.0,258.5L1449.5,258.5L1452.0,258.6L1454.5,258.6L1457.0,258.6L1459.4,258.7L1461.9,258.7L1464.4,258.7L1466.9,258.8L1469.4,258.8L1471.9,258.8L1474.4,258.9L1476.9,258.9L1479.4,258.9L1481.9,259.0L1484.4,259.0L1486.9,259.0L1489.4,259.1L1491.9,259.1L1494.4,259.1L1496.9,259.2L1499.4,259.2L1501.9,259.3L1504.4,259.3L1506.9,259.3L1509.4,259.4L1511.9,259.4L1514.4,259.4L1516.9,259.5L1519.4,259.5L1521.9,259.6L1524.4,259.6L1526.9,259.6L1529.4,259.7L1531.9,259.7L1534.4,259.8L1536.9,259.8L1539.4,259.8L1541.9,259.9L1544.4,259.9L1546.9,260.0L1549.4,260.0L1551.9,260.1L1554.4,260.1L1556.9,260.1L1559.4,260.2L1561.9,260.2L1564.4,260.3L1566.9,260.3L1569.4,260.4L1571.9,260.4L1574.4,260.4L1576.8,260.5L1579.3,260.5L1581.8,260.6L1584.3,260.6L1586.8,260.7L1589.3,260.7L1591.8,260.8L1594.3,260.8L1596.8,260.9L1599.3,260.9L1601.8,261.0L1604.3,261.0L1606.8,261.1L1609.3,261.1L1611.8,261.2L1614.3,261.2L1616.8,261.3L1619.3,261.3L1621.8,261.4L1624.3,261.4L1626.8,261.5L1629.3,261.5L1631.8,261.6L1634.3,261.6L1636.8,261.7L1639.3,261.7L1641.8,261.8L1644.3,261.8L1646.8,261.9L1649.3,261.9L1651.8,262.0L1654.3,262.1L1656.8,262.1L1659.3,262.2L1661.8,262.2L1664.3,262.3L1666.8,262.3L1669.2,262.4L1671.7,262.5L1674.2,262.5L1676.7,262.6L1679.2,262.6L1681.7,262.7L1684.2,262.8L1686.7,262.8L1689.2,262.9L1691.7,262.9L1694.2,263.0L1696.7,263.1L1699.2,263.1L1701.7,263.2L1704.2,263.3L1706.7,263.3L1709.2,263.4L1711.7,263.5L1714.2,263.5L1716.7,263.6L1719.2,263.6L1721.7,263.7L1724.2,263.8L1726.7,263.9L1729.2,263.9L1731.7,264.0L1734.2,264.1L1736.7,264.1L1739.1,264.2L1741.6,264.3L1744.1,264.3L1746.6,264.4L1749.1,264.5L1751.6,264.6L1754.1,264.6L1756.6,264.7L1759.1,264.8L1761.6,264.9L1764.1,264.9L1766.6,265.0L1769.1,265.1L1771.6,265.2L1774.1,265.2L1776.6,265.3L1779.1,265.4L1781.6,265.5L1784.1,265.6L1786.6,265.6L1789.1,265.7L1791.6,265.8L1794.1,265.9L1796.5,266.0L1799.0,266.0L1801.5,266.1L1804.0,266.2L1806.5,266.3L1809.0,266.4L1811.5,266.5L1814.0,266.6L1816.5,266.6L1819.0,266.7L1821.5,266.8L1824.0,266.9L1826.5,267.0L1829.0,267.1L1831.5,267.2L1834.0,267.3" stroke-width="7.4"/></g><g stroke="#008000"><path d="M174.3,1240.0L174.3,929.0" stroke-width="5.6" stroke-linecap="butt"/><path d="M176.5,931.7L178.6,1015.0L180.5,1030.0L184.5,1040.0L189.0,1046.0L192.6,1047.4" stroke-width="5.4"/><path d="M192.6,1047.4L195.1,1046.3L197.5,1045.2L199.9,1044.1L202.3,1042.9L204.6,1041.7L206.9,1040.5L209.1,1039.2L211.4,1037.9L213.5,1036.5L215.7,1035.1L217.8,1033.7L219.9,1032.2L221.9,1030.7L223.9,1029.2L225.8,1027.7L227.7,1026.1L229.6,1024.4L231.4,1022.8L233.2,1021.1L234.9,1019.4L236.6,1017.6L238.3,1015.8L239.9,1014.0L241.4,1012.1L242.9,1010.2L244.4,1008.3L245.8,1006.3L247.2,1004.4L248.5,1002.3L249.7,1000.3L251.0,998.2L252.1,996.1L253.2,994.0L254.3,991.8L255.4,989.6L256.4,987.4L257.3,985.2L258.2,982.9L259.1,980.6L260.0,978.3L260.8,976.0L261.6,973.7L262.3,971.3L263.1,968.9L263.8,966.6L264.4,964.2L265.1,961.7L265.7,959.3L266.3,956.9L266.9,954.4L267.4,952.0L268.0,949.5L268.5,947.1L269.0,944.6L269.5,942.1L269.9,939.6L270.4,937.1L270.9,934.6L271.3,932.1L271.7,929.6L272.1,927.1L272.5,924.6L272.9,922.1L273.3,919.6L273.7,917.1L274.1,914.6L274.5,912.0L274.8,909.5L275.2,907.0L275.6,904.5L275.9,902.0L276.3,899.5L276.7,897.0L277.0,894.4L277.4,891.9L277.8,889.4L278.1,886.9L278.5,884.4L278.9,881.9L279.2,879.4L279.6,876.9L280.0,874.4L280.3,871.9L280.7,869.4L281.1,866.9L281.4,864.4L281.8,861.9L282.2,859.4L282.6,857.0L282.9,854.5L283.3,852.0L283.7,849.5L284.0,847.0L284.4,844.5L284.8,842.1L285.2,839.6L285.6,837.1L285.9,834.6L286.3,832.2L286.7,829.7L287.1,827.2L287.5,824.7L287.8,822.3L288.2,819.8L288.6,817.3L289.0,814.9L289.4,812.4L289.8,809.9L290.2,807.5L290.5,805.0L290.9,802.5L291.3,800.1L291.7,797.6L292.1,795.2L292.5,792.7L292.9,790.3L293.3,787.8L293.7,785.3L294.1,782.9L294.5,780.4L294.9,778.0L295.3,775.5L295.7,773.1L296.1,770.6L296.5,768.2L297.0,765.7L297.4,763.3L297.8,760.8L298.2,758.4L298.6,756.0L299.0,753.5L299.5,751.1L299.9,748.6L300.3,746.2L300.7,743.7L301.2,741.3L301.6,738.9L302.0,736.4L302.5,734.0L302.9,731.6L303.3,729.1L303.8,726.7L304.2,724.2L304.7,721.8L305.1,719.4L305.5,716.9L306.0,714.5L306.4,712.1L306.9,709.6L307.4,707.2L307.8,704.8L308.3,702.4L308.7,699.9L309.2,697.5L309.7,695.1L310.1,692.6L310.6,690.2L311.1,687.8L311.6,685.3L312.0,682.9L312.5,680.5L313.0,678.1L313.5,675.6L314.0,673.2L314.5,670.8L314.9,668.4L315.4,665.9L315.9,663.5L316.4,661.1L316.9,658.7L317.4,656.2L318.0,653.8L318.5,651.4L319.0,649.0L319.5,646.5L320.0,644.1L320.5,641.7L321.1,639.3L321.6,636.8L322.1,634.4L322.6,632.0L323.2,629.6L323.7,627.1L324.3,624.7L324.8,622.3L325.4,619.9L325.9,617.4L326.5,615.0L327.0,612.6L327.6,610.1L328.1,607.7L328.7,605.3L329.3,602.9L329.8,600.4L330.4,598.0L331.0,595.6L331.6,593.2L332.2,590.7L332.8,588.3L333.3,585.9L333.9,583.4L334.5,581.0L335.1,578.6L335.7,576.2L336.4,573.7L337.0,571.3L337.6,568.9L338.2,566.4L338.8,564.0L339.4,561.6L340.1,559.1L340.7,556.7L341.3,554.3L342.0,551.8L342.6,549.4L343.3,547.0L343.9,544.5L344.6,542.1L345.2,539.7L345.9,537.2L346.6,534.8L347.3,532.4L347.9,529.9L348.6,527.5L349.3,525.0L350.0,522.6L350.7,520.2L351.4,517.7L352.1,515.3L352.8,512.9L353.5,510.5L354.2,508.0L355.0,505.6L355.7,503.2L356.4,500.7L357.2,498.3L357.9,495.9L358.7,493.5L359.4,491.1L360.2,488.7L361.0,486.2L361.8,483.8L362.5,481.4L363.3,479.0L364.1,476.6L364.9,474.2L365.7,471.8L366.6,469.4L367.4,467.0L368.2,464.6L369.1,462.3L369.9,459.9L370.8,457.5L371.6,455.1L372.5,452.8L373.4,450.4L374.3,448.0L375.2,445.7L376.1,443.3L377.0,441.0L377.9,438.6L378.8,436.3L379.7,433.9L380.7,431.6L381.6,429.3L382.6,427.0L383.5,424.6L384.5,422.3L385.5,420.0L386.5,417.7L387.5,415.4L388.5,413.1L389.5,410.8L390.6,408.6L391.6,406.3L392.7,404.0L393.7,401.8L394.8,399.5L395.9,397.3L396.9,395.0L398.0,392.8L399.2,390.6L400.3,388.3L401.4,386.1L402.5,383.9L403.7,381.7L404.8,379.5L406.0,377.3L407.2,375.2L408.4,373.0L409.6,370.8L410.8,368.7L412.0,366.5L413.3,364.4L414.5,362.2L415.8,360.1L417.0,358.0L418.3,355.9L419.6,353.8L420.9,351.7L422.3,349.6L423.6,347.5L424.9,345.5L426.3,343.4L427.6,341.4L429.0,339.3L430.4,337.3L431.8,335.3L433.2,333.3L434.7,331.3L436.1,329.3L437.6,327.3L439.0,325.3L440.5,323.4L442.0,321.4L443.5,319.5L445.0,317.6L446.6,315.7L448.1,313.8L449.7,311.9L451.3,310.0L452.9,308.1L454.5,306.2L456.1,304.4L457.7,302.5L459.4,300.7L461.0,298.9L462.7,297.1L464.4,295.3L466.1,293.5L467.8,291.7L469.6,290.0L471.3,288.2L473.1,286.5L474.9,284.8L476.7,283.1L478.5,281.4L480.3,279.7L482.1,278.0L484.0,276.4L485.9,274.7L487.8,273.1" stroke-width="5.4"/><path d="M487.8,273.1L489.7,271.5L491.6,269.9L493.5,268.3L495.5,266.7L497.4,265.1L499.4,263.6L501.4,262.0L503.4,260.5L505.4,259.0L507.4,257.5L509.4,256.0L511.5,254.5L513.6,253.1L515.6,251.6L517.7,250.2L519.8,248.8L521.9,247.4L524.0,246.0" stroke-width="5.6"/><path d="M524.0,246.0L526.1,244.6L528.3,243.3L530.4,241.9L532.6,240.6L534.7,239.3L536.9,238.0L539.1,236.7L541.3,235.4L543.4,234.2L545.7,232.9L547.9,231.7L550.1,230.5" stroke-width="5.8"/><path d="M550.1,230.5L552.3,229.3L554.5,228.1L556.8,226.9L559.0,225.8L561.3,224.6L563.5,223.5L565.8,222.4L568.1,221.3L570.4,220.3L572.6,219.2L574.9,218.2L577.2,217.1" stroke-width="6.0"/><path d="M577.2,217.1L579.5,216.1L581.8,215.1L584.1,214.1L586.4,213.2L588.7,212.2L591.1,211.3" stroke-width="6.2"/><path d="M591.1,211.3L593.4,210.4L595.7,209.5L598.0,208.6L600.4,207.7L602.7,206.8L605.0,206.0L607.4,205.1L609.7,204.3L612.1,203.5L614.4,202.7L616.8,201.9L619.2,201.2" stroke-width="6.4"/><path d="M619.2,201.2L621.5,200.4L623.9,199.6L626.3,198.9L628.7,198.2L631.0,197.5L633.4,196.8" stroke-width="6.6"/><path d="M633.4,196.8L635.8,196.1L638.2,195.4L640.6,194.8L643.0,194.1L645.4,193.5L647.8,192.9L650.2,192.2L652.6,191.6L655.0,191.0L657.4,190.5L659.9,189.9L662.3,189.3" stroke-width="6.8"/><path d="M662.3,189.3L664.7,188.8L667.1,188.2L669.6,187.7L672.0,187.1L674.4,186.6L676.9,186.1" stroke-width="7.0"/><path d="M676.9,186.1L679.3,185.6L681.7,185.1L684.2,184.7L686.6,184.2L689.1,183.7L691.5,183.3L694.0,182.8L696.4,182.4L698.9,181.9L701.3,181.5L703.8,181.1L706.2,180.7" stroke-width="7.2"/><path d="M706.2,180.7L708.7,180.3L711.2,179.9L713.6,179.5L716.1,179.1L718.6,178.7L721.0,178.3L723.5,178.0L726.0,177.6L728.4,177.3L730.9,176.9L733.4,176.6L735.9,176.2L738.3,175.9L740.8,175.6L743.3,175.2L745.8,174.9L748.2,174.6L750.7,174.3L753.2,174.0L755.7,173.7L758.2,173.4L760.6,173.1L763.1,172.8L765.6,172.5L768.1,172.2L770.6,172.0L773.1,171.7L775.5,171.4L778.0,171.1L780.5,170.9L783.0,170.6L785.5,170.3L788.0,170.1L790.4,169.8L792.9,169.5L795.4,169.3L797.9,169.0L800.4,168.8L802.9,168.5L805.4,168.3L807.8,168.1L810.3,167.8L812.8,167.6L815.3,167.4L817.8,167.1L820.3,166.9L822.8,166.7L825.3,166.4L827.7,166.2L830.2,166.0L832.7,165.8L835.2,165.6L837.7,165.4L840.2,165.2L842.7,165.0L845.2,164.8L847.6,164.6L850.1,164.4L852.6,164.2L855.1,164.0L857.6,163.8L860.1,163.6L862.6,163.4L865.1,163.2L867.6,163.0L870.1,162.9L872.5,162.7L875.0,162.5L877.5,162.3L880.0,162.2L882.5,162.0L885.0,161.8L887.5,161.7L890.0,161.5L892.5,161.3L895.0,161.2L897.5,161.0L899.9,160.9L902.4,160.7L904.9,160.6L907.4,160.4L909.9,160.3L912.4,160.1L914.9,160.0L917.4,159.9L919.9,159.7L922.4,159.6L924.9,159.5L927.4,159.3L929.9,159.2L932.4,159.1L934.8,158.9L937.3,158.8L939.8,158.7L942.3,158.6L944.8,158.5L947.3,158.4L949.8,158.2L952.3,158.1L954.8,158.0L957.3,157.9L959.8,157.8L962.3,157.7L964.8,157.6L967.3,157.5L969.8,157.4L972.3,157.3L974.8,157.2L977.3,157.1L979.8,157.0L982.3,156.9L984.7,156.8L987.2,156.8L989.7,156.7L992.2,156.6L994.7,156.5L997.2,156.4L999.7,156.3L1002.2,156.3L1004.7,156.2L1007.2,156.1L1009.7,156.0L1012.2,156.0L1014.7,155.9L1017.2,155.8L1019.7,155.8L1022.2,155.7L1024.7,155.6L1027.2,155.6L1029.7,155.5L1032.2,155.4L1034.7,155.4L1037.2,155.3L1039.7,155.3L1042.2,155.2L1044.7,155.2L1047.2,155.1L1049.7,155.1L1052.2,155.0L1054.7,155.0L1057.2,154.9L1059.7,154.9L1062.2,154.8L1064.7,154.8L1067.2,154.7L1069.7,154.7L1072.2,154.7L1074.7,154.6L1077.2,154.6L1079.7,154.6L1082.2,154.5L1084.7,154.5L1087.2,154.5L1089.6,154.4L1092.1,154.4L1094.6,154.4L1097.1,154.3L1099.6,154.3L1102.1,154.3L1104.6,154.3L1107.1,154.2L1109.6,154.2L1112.1,154.2L1114.6,154.2L1117.1,154.1L1119.6,154.1L1122.1,154.1L1124.6,154.1L1127.1,154.1L1129.6,154.1L1132.1,154.0L1134.6,154.0L1137.1,154.0L1139.6,154.0L1142.1,154.0L1144.6,154.0L1147.1,154.0L1149.6,154.0L1152.1,153.9L1154.6,153.9L1157.1,153.9L1159.6,153.9L1162.1,153.9L1164.6,153.9L1167.1,153.9L1169.6,153.9L1172.1,153.9L1174.6,153.9L1177.1,153.9L1179.6,153.9L1182.1,153.9L1184.6,153.9L1187.1,153.9L1189.6,153.9L1192.1,153.9L1194.6,153.9L1197.1,153.9L1199.6,153.9L1202.1,153.9L1204.6,153.9L1207.1,153.9L1209.6,153.9L1212.1,153.9L1214.6,153.9L1217.1,153.9L1219.6,153.9L1222.1,153.9L1224.6,154.0L1227.1,154.0L1229.6,154.0L1232.1,154.0L1234.6,154.0L1237.1,154.0L1239.6,154.0L1242.1,154.0L1244.6,154.0L1247.1,154.0L1249.6,154.0L1252.1,154.0L1254.6,154.1L1257.1,154.1L1259.6,154.1L1262.1,154.1L1264.6,154.1L1267.1,154.1L1269.6,154.1L1272.1,154.1L1274.6,154.1L1277.1,154.2L1279.6,154.2L1282.1,154.2L1284.6,154.2L1287.1,154.2L1289.6,154.2L1292.1,154.2L1294.6,154.2L1297.1,154.3L1299.6,154.3L1302.1,154.3L1304.6,154.3L1307.1,154.3L1309.6,154.3L1312.1,154.3L1314.6,154.4L1317.1,154.4L1319.5,154.4L1322.0,154.4L1324.5,154.4L1327.0,154.4L1329.5,154.5L1332.0,154.5L1334.5,154.5L1337.0,154.5L1339.5,154.5L1342.0,154.5L1344.5,154.6L1347.0,154.6L1349.5,154.6L1352.0,154.6L1354.5,154.6L1357.0,154.7L1359.5,154.7L1362.0,154.7L1364.5,154.7L1367.0,154.7L1369.5,154.7L1372.0,154.8L1374.5,154.8L1377.0,154.8L1379.5,154.8L1382.0,154.8L1384.5,154.9L1387.0,154.9L1389.5,154.9L1392.0,154.9L1394.5,154.9L1397.0,155.0L1399.5,155.0L1402.0,155.0L1404.5,155.0L1407.0,155.1L1409.5,155.1L1412.0,155.1L1414.4,155.1L1416.9,155.1L1419.4,155.2L1421.9,155.2L1424.4,155.2L1426.9,155.2L1429.4,155.3L1431.9,155.3L1434.4,155.3L1436.9,155.3L1439.4,155.4L1441.9,155.4L1444.4,155.4L1446.9,155.4L1449.4,155.4L1451.9,155.5L1454.4,155.5L1456.9,155.5L1459.4,155.5L1461.9,155.6L1464.4,155.6L1466.9,155.6L1469.4,155.6L1471.9,155.7L1474.4,155.7L1476.9,155.7L1479.4,155.8L1481.9,155.8L1484.4,155.8L1486.9,155.8L1489.4,155.9L1491.8,155.9L1494.3,155.9L1496.8,155.9L1499.3,156.0L1501.8,156.0L1504.3,156.0L1506.8,156.0L1509.3,156.1L1511.8,156.1L1514.3,156.1L1516.8,156.2L1519.3,156.2L1521.8,156.2L1524.3,156.2L1526.8,156.3L1529.3,156.3L1531.8,156.3L1534.3,156.4L1536.8,156.4L1539.3,156.4L1541.8,156.4L1544.3,156.5L1546.8,156.5L1549.3,156.5L1551.8,156.6L1554.3,156.6L1556.8,156.6L1559.3,156.6L1561.8,156.7L1564.3,156.7L1566.8,156.7L1569.2,156.8L1571.7,156.8L1574.2,156.8L1576.7,156.9L1579.2,156.9L1581.7,156.9L1584.2,156.9L1586.7,157.0L1589.2,157.0L1591.7,157.0L1594.2,157.1L1596.7,157.1L1599.2,157.1L1601.7,157.2L1604.2,157.2L1606.7,157.2L1609.2,157.3L1611.7,157.3L1614.2,157.3L1616.7,157.3L1619.2,157.4L1621.7,157.4L1624.2,157.4L1626.7,157.5L1629.2,157.5L1631.7,157.5L1634.2,157.6L1636.7,157.6L1639.2,157.6L1641.7,157.7L1644.2,157.7L1646.7,157.7L1649.2,157.8L1651.6,157.8L1654.1,157.8L1656.6,157.9L1659.1,157.9L1661.6,157.9L1664.1,158.0L1666.6,158.0L1669.1,158.0L1671.6,158.1L1674.1,158.1L1676.6,158.1L1679.1,158.2L1681.6,158.2L1684.1,158.2L1686.6,158.3L1689.1,158.3L1691.6,158.3L1694.1,158.4L1696.6,158.4L1699.1,158.4L1701.6,158.4L1704.1,158.5L1706.6,158.5L1709.1,158.5L1711.6,158.6L1714.1,158.6L1716.6,158.6L1719.1,158.7L1721.6,158.7L1724.1,158.7L1726.6,158.8L1729.1,158.8L1731.6,158.8L1734.1,158.9L1736.6,158.9L1739.1,158.9L1741.6,159.0L1744.1,159.0L1746.6,159.0L1749.1,159.1L1751.6,159.1L1754.1,159.1L1756.6,159.2L1759.1,159.2L1761.6,159.2L1764.1,159.3L1766.5,159.3L1769.0,159.4L1771.5,159.4L1774.0,159.4L1776.5,159.5L1779.0,159.5L1781.5,159.5L1784.0,159.6L1786.5,159.6L1789.0,159.6L1791.5,159.7L1794.0,159.7L1796.5,159.7L1799.0,159.8L1801.5,159.8L1804.0,159.8L1806.5,159.9L1809.0,159.9L1811.5,159.9L1814.0,160.0L1816.5,160.0L1819.0,160.0L1821.5,160.1L1824.0,160.1L1826.5,160.1L1829.0,160.2L1831.5,160.2L1834.0,160.2" stroke-width="7.4"/></g></g><g font-family="'Liberation Sans', Arial, Helvetica, sans-serif" font-size="50" letter-spacing="2.3" fill="#000"><text x="173.8" y="1303.0" text-anchor="middle">0</text><text x="395.5" y="1303.0" text-anchor="middle">200</text><text x="617.3" y="1303.0" text-anchor="middle">400</text><text x="839.0" y="1303.0" text-anchor="middle">600</text><text x="1060.8" y="1303.0" text-anchor="middle">800</text><text x="1282.6" y="1303.0" text-anchor="middle">1000</text><text x="1504.3" y="1303.0" text-anchor="middle">1200</text><text x="1726.0" y="1303.0" text-anchor="middle">1400</text><text x="148.6" y="1253.5" text-anchor="end">0</text><text x="148.6" y="1104.0" text-anchor="end">2</text><text x="148.6" y="954.6" text-anchor="end">4</text><text x="148.6" y="805.1" text-anchor="end">6</text><text x="148.6" y="655.7" text-anchor="end">8</text><text x="148.6" y="506.2" text-anchor="end">10</text><text x="148.6" y="356.7" text-anchor="end">12</text><text x="148.6" y="207.3" text-anchor="end">14</text><text x="148.6" y="57.8" text-anchor="end">16</text></g><g font-family="'Liberation Sans', Arial, Helvetica, sans-serif" fill="#000"><text x="1004.0" y="1402" text-anchor="middle" font-size="62.5" letter-spacing="1.3">Time (s)</text><text transform="translate(66,661.5) rotate(-90)" text-anchor="middle" font-size="62">Troque (dN.m)</text></g><g font-family="'Liberation Sans', Arial, Helvetica, sans-serif" font-size="48.5" letter-spacing="2.3" fill="#000"><rect x="1258.7" y="589.2" width="150" height="5.5" fill="#000000"/><text x="1782.0" y="611.8" text-anchor="end">100SBR/0RWR</text><rect x="1258.7" y="665.5" width="150" height="5.5" fill="#ff0000"/><text x="1782.0" y="688.0" text-anchor="end">90SBR/10RWR</text><rect x="1258.7" y="740.2" width="150" height="5.5" fill="#0000ff"/><text x="1782.0" y="762.8" text-anchor="end">80SBR/20RWR</text><rect x="1258.7" y="816.9" width="150" height="5.5" fill="#ff00ff"/><text x="1782.0" y="839.4" text-anchor="end">70SBR/30RWR</text><rect x="1258.7" y="893.5" width="150" height="5.5" fill="#008000"/><text x="1782.0" y="916.1" text-anchor="end">60SBR/40RWR</text></g></svg>
</body></html>
